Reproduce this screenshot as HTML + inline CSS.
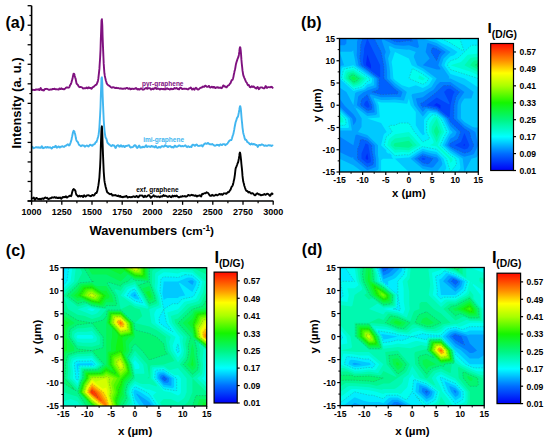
<!DOCTYPE html>
<html><head><meta charset="utf-8"><style>
html,body{margin:0;padding:0;background:#fff;width:550px;height:443px;overflow:hidden}
svg{display:block}
</style></head><body>
<svg width="550" height="443" viewBox="0 0 550 443">
<rect width="550" height="443" fill="#fff"/>
<polyline points="31.6,199.0 32.0,198.4 32.3,198.3 32.7,198.2 33.0,198.2 33.4,197.9 33.8,197.6 34.1,198.3 34.5,199.0 34.9,199.9 35.2,199.5 35.6,198.9 35.9,198.2 36.3,197.9 36.7,198.0 37.0,198.2 37.4,198.7 37.8,198.9 38.1,199.0 38.5,199.0 38.8,199.2 39.2,199.3 39.6,199.1 39.9,198.7 40.3,198.8 40.7,199.1 41.0,199.4 41.4,199.1 41.7,198.8 42.1,198.5 42.5,198.4 42.8,198.6 43.2,198.8 43.6,199.0 43.9,198.5 44.3,198.2 44.6,197.6 45.0,197.6 45.4,197.4 45.7,197.7 46.1,198.0 46.5,198.2 46.8,198.1 47.2,197.8 47.5,198.1 47.9,198.6 48.3,199.1 48.6,199.2 49.0,199.0 49.4,198.7 49.7,198.3 50.1,198.2 50.4,198.3 50.8,198.3 51.2,198.1 51.5,197.6 51.9,197.4 52.3,197.3 52.6,197.6 53.0,197.7 53.3,197.5 53.7,197.5 54.1,197.4 54.4,197.4 54.8,197.1 55.2,197.5 55.5,197.8 55.9,197.9 56.2,197.4 56.6,197.3 57.0,197.7 57.3,197.9 57.7,198.1 58.1,197.7 58.4,197.8 58.8,197.7 59.1,198.1 59.5,197.7 59.9,197.6 60.2,197.5 60.6,198.2 61.0,198.6 61.3,198.8 61.7,198.4 62.0,197.9 62.4,197.2 62.8,197.1 63.1,197.0 63.5,197.2 63.9,196.9 64.2,196.9 64.6,197.0 64.9,197.2 65.3,196.9 65.7,196.4 66.0,196.3 66.4,196.8 66.8,197.5 67.1,197.6 67.5,197.2 67.8,196.8 68.2,196.7 68.6,196.5 68.9,196.4 69.3,195.9 69.7,195.8 70.0,195.6 70.4,195.9 70.7,196.0 71.1,196.2 71.5,195.3 71.8,193.9 72.2,192.0 72.6,190.9 72.9,189.9 73.3,189.4 73.6,189.0 74.0,189.3 74.4,189.6 74.7,189.8 75.1,190.3 75.5,191.2 75.8,192.8 76.2,194.1 76.5,195.0 76.9,195.2 77.3,195.6 77.6,195.9 78.0,196.6 78.3,196.5 78.7,196.3 79.1,195.6 79.4,195.7 79.8,195.9 80.2,196.5 80.5,196.5 80.9,196.3 81.2,196.0 81.6,195.9 82.0,195.8 82.3,196.2 82.7,196.7 83.1,197.1 83.4,196.6 83.8,195.7 84.1,195.2 84.5,195.5 84.9,196.1 85.2,196.5 85.6,196.5 86.0,196.4 86.3,196.1 86.7,195.7 87.0,195.3 87.4,195.3 87.8,195.4 88.1,195.3 88.5,195.2 88.9,195.3 89.2,195.6 89.6,195.8 89.9,195.8 90.3,195.9 90.7,196.2 91.0,196.1 91.4,195.9 91.8,195.1 92.1,195.1 92.5,194.9 92.8,195.3 93.2,195.5 93.6,195.6 93.9,195.4 94.3,195.0 94.7,194.6 95.0,193.9 95.4,193.4 95.7,193.1 96.1,192.9 96.5,193.0 96.8,192.4 97.2,191.4 97.6,189.6 97.9,187.8 98.3,185.9 98.6,183.9 99.0,180.9 99.4,177.5 99.7,172.6 100.1,166.5 100.5,157.7 100.8,147.3 101.2,136.0 101.5,127.8 101.9,126.3 102.3,132.7 102.6,143.5 103.0,154.6 103.4,164.0 103.7,171.2 104.1,176.6 104.4,180.4 104.8,182.9 105.2,184.8 105.5,186.3 105.9,187.9 106.3,189.1 106.6,190.6 107.0,191.6 107.3,192.4 107.7,192.6 108.1,192.8 108.4,193.1 108.8,193.4 109.2,193.8 109.5,194.0 109.9,194.2 110.2,194.2 110.6,194.0 111.0,194.0 111.3,193.8 111.7,194.3 112.1,194.9 112.4,195.6 112.8,195.6 113.1,195.2 113.5,195.1 113.9,195.2 114.2,195.4 114.6,195.3 115.0,195.1 115.3,195.0 115.7,195.2 116.0,195.4 116.4,195.7 116.8,195.8 117.1,196.0 117.5,196.0 117.9,195.7 118.2,195.5 118.6,195.9 118.9,196.3 119.3,196.7 119.7,196.3 120.0,195.9 120.4,196.0 120.8,196.5 121.1,197.1 121.5,196.9 121.8,196.7 122.2,196.8 122.6,197.0 122.9,197.3 123.3,197.0 123.6,196.9 124.0,196.6 124.4,196.7 124.7,196.5 125.1,196.8 125.5,196.5 125.8,196.2 126.2,195.9 126.5,196.1 126.9,196.7 127.3,197.2 127.6,197.5 128.0,197.5 128.4,197.3 128.7,197.1 129.1,197.0 129.4,197.0 129.8,197.0 130.2,197.2 130.5,197.2 130.9,197.0 131.3,197.0 131.6,197.2 132.0,197.3 132.3,196.9 132.7,196.7 133.1,196.4 133.4,196.4 133.8,196.3 134.2,196.5 134.5,196.8 134.9,197.0 135.2,197.1 135.6,196.8 136.0,196.4 136.3,195.9 136.7,195.9 137.1,196.2 137.4,196.8 137.8,197.0 138.1,197.3 138.5,197.1 138.9,196.8 139.2,196.0 139.6,195.5 140.0,195.5 140.3,195.5 140.7,195.6 141.0,195.6 141.4,195.6 141.8,195.5 142.1,195.5 142.5,195.8 142.9,196.4 143.2,196.8 143.6,197.2 143.9,197.1 144.3,196.5 144.7,195.8 145.0,195.7 145.4,196.2 145.8,196.7 146.1,196.9 146.5,196.8 146.8,196.4 147.2,196.3 147.6,196.0 147.9,195.6 148.3,195.2 148.7,195.1 149.0,195.1 149.4,195.4 149.7,195.8 150.1,196.6 150.5,197.3 150.8,197.8 151.2,197.5 151.6,197.0 151.9,196.7 152.3,196.6 152.6,196.5 153.0,196.0 153.4,195.5 153.7,195.2 154.1,195.8 154.5,196.2 154.8,196.6 155.2,196.3 155.5,196.2 155.9,196.3 156.3,196.4 156.6,196.7 157.0,196.9 157.4,196.8 157.7,196.7 158.1,196.5 158.4,196.5 158.8,196.5 159.2,196.9 159.5,197.2 159.9,197.3 160.3,196.7 160.6,196.3 161.0,196.2 161.3,196.3 161.7,196.6 162.1,196.6 162.4,196.6 162.8,195.9 163.2,195.4 163.5,195.0 163.9,195.5 164.2,196.0 164.6,195.9 165.0,195.7 165.3,195.6 165.7,195.9 166.1,196.0 166.4,196.1 166.8,196.3 167.1,196.4 167.5,196.7 167.9,196.7 168.2,196.9 168.6,196.6 168.9,196.3 169.3,196.0 169.7,196.1 170.0,196.4 170.4,196.6 170.8,197.0 171.1,197.1 171.5,197.2 171.8,196.6 172.2,196.0 172.6,195.6 172.9,195.9 173.3,196.4 173.7,196.5 174.0,196.3 174.4,195.8 174.7,195.8 175.1,195.9 175.5,196.3 175.8,196.1 176.2,195.7 176.6,195.5 176.9,196.0 177.3,196.4 177.6,196.6 178.0,196.6 178.4,197.0 178.7,197.3 179.1,197.4 179.5,197.2 179.8,197.1 180.2,196.8 180.5,196.6 180.9,196.4 181.3,196.8 181.6,196.6 182.0,196.6 182.4,196.0 182.7,196.2 183.1,196.2 183.4,196.4 183.8,196.4 184.2,196.4 184.5,196.2 184.9,196.0 185.3,196.2 185.6,196.6 186.0,196.7 186.3,196.5 186.7,196.3 187.1,196.1 187.4,195.9 187.8,195.4 188.2,195.0 188.5,195.0 188.9,195.0 189.2,195.4 189.6,195.5 190.0,195.7 190.3,195.4 190.7,195.4 191.1,195.0 191.4,195.0 191.8,194.7 192.1,194.9 192.5,195.2 192.9,195.2 193.2,195.3 193.6,195.3 194.0,195.6 194.3,195.8 194.7,195.8 195.0,195.8 195.4,195.4 195.8,195.3 196.1,195.6 196.5,196.2 196.9,196.5 197.2,196.4 197.6,196.0 197.9,195.7 198.3,195.7 198.7,195.7 199.0,195.8 199.4,195.5 199.8,195.2 200.1,195.3 200.5,195.8 200.8,196.4 201.2,196.5 201.6,195.5 201.9,194.5 202.3,193.8 202.7,193.9 203.0,194.0 203.4,193.9 203.7,193.7 204.1,193.3 204.5,193.2 204.8,193.1 205.2,193.2 205.6,193.3 205.9,193.0 206.3,192.5 206.6,192.3 207.0,192.5 207.4,192.7 207.7,192.8 208.1,193.0 208.5,193.5 208.8,194.0 209.2,194.6 209.5,195.2 209.9,195.7 210.3,195.8 210.6,195.8 211.0,195.8 211.4,195.6 211.7,195.2 212.1,194.8 212.4,195.1 212.8,195.3 213.2,195.7 213.5,195.5 213.9,195.6 214.2,195.6 214.6,195.7 215.0,195.3 215.3,195.0 215.7,194.7 216.1,194.7 216.4,194.8 216.8,195.0 217.1,195.3 217.5,195.4 217.9,195.0 218.2,194.8 218.6,194.5 219.0,194.4 219.3,194.0 219.7,194.0 220.0,194.2 220.4,194.5 220.8,194.2 221.1,194.0 221.5,194.1 221.9,194.6 222.2,194.9 222.6,194.8 222.9,194.4 223.3,193.9 223.7,193.5 224.0,193.4 224.4,193.4 224.8,193.4 225.1,193.3 225.5,193.4 225.8,193.8 226.2,193.9 226.6,193.6 226.9,193.2 227.3,192.7 227.7,192.6 228.0,192.1 228.4,192.3 228.7,192.0 229.1,191.8 229.5,191.1 229.8,190.6 230.2,190.0 230.6,189.6 230.9,188.7 231.3,187.7 231.6,186.9 232.0,186.3 232.4,186.0 232.7,185.3 233.1,184.1 233.5,182.4 233.8,180.7 234.2,179.3 234.5,177.4 234.9,174.6 235.3,171.2 235.6,168.7 236.0,167.4 236.4,166.7 236.7,165.9 237.1,164.8 237.4,163.9 237.8,162.9 238.2,162.0 238.5,160.5 238.9,158.4 239.3,155.9 239.6,153.4 240.0,152.5 240.3,153.7 240.7,156.8 241.1,160.4 241.4,164.0 241.8,167.6 242.2,171.7 242.5,175.9 242.9,179.2 243.2,181.3 243.6,182.8 244.0,184.1 244.3,185.7 244.7,186.8 245.1,188.0 245.4,188.8 245.8,189.8 246.1,190.4 246.5,190.9 246.9,191.0 247.2,191.0 247.6,191.3 248.0,191.8 248.3,192.3 248.7,192.5 249.0,192.3 249.4,192.0 249.8,192.1 250.1,192.5 250.5,193.0 250.9,193.3 251.2,193.6 251.6,193.4 251.9,193.2 252.3,193.1 252.7,193.2 253.0,193.5 253.4,193.8 253.8,194.4 254.1,194.8 254.5,195.1 254.8,195.3 255.2,195.4 255.6,195.0 255.9,194.4 256.3,194.0 256.7,193.6 257.0,193.5 257.4,193.3 257.7,193.7 258.1,193.9 258.5,194.4 258.8,194.4 259.2,194.5 259.5,194.3 259.9,194.5 260.3,194.7 260.6,195.2 261.0,195.2 261.4,195.2 261.7,195.0 262.1,194.9 262.4,195.0 262.8,194.8 263.2,194.9 263.5,194.5 263.9,194.3 264.3,194.0 264.6,194.3 265.0,194.7 265.3,194.8 265.7,194.8 266.1,194.4 266.4,194.2 266.8,193.8 267.2,193.7 267.5,193.8 267.9,193.9 268.2,194.1 268.6,194.3 269.0,194.7 269.3,195.1 269.7,195.7 270.1,195.9 270.4,195.6 270.8,194.8 271.1,194.2 271.5,193.6 271.9,193.4 272.2,193.5 272.6,194.0 273.0,194.6" fill="none" stroke="#000000" stroke-width="1.9" stroke-linejoin="round"/>
<polyline points="31.6,147.4 32.0,146.9 32.3,146.8 32.7,147.0 33.0,147.8 33.4,148.2 33.8,148.2 34.1,147.9 34.5,147.8 34.9,147.7 35.2,147.6 35.6,147.3 35.9,147.2 36.3,147.1 36.7,147.4 37.0,147.5 37.4,147.6 37.8,147.2 38.1,147.3 38.5,147.3 38.8,147.7 39.2,147.8 39.6,147.7 39.9,147.5 40.3,147.7 40.7,147.9 41.0,147.7 41.4,146.7 41.7,146.2 42.1,146.3 42.5,147.3 42.8,147.9 43.2,148.2 43.6,148.1 43.9,147.9 44.3,147.7 44.6,147.5 45.0,147.3 45.4,147.0 45.7,147.3 46.1,147.6 46.5,147.7 46.8,147.2 47.2,146.9 47.5,146.9 47.9,147.5 48.3,147.5 48.6,147.6 49.0,147.3 49.4,147.5 49.7,147.4 50.1,147.3 50.4,147.4 50.8,147.8 51.2,148.2 51.5,148.5 51.9,148.5 52.3,147.9 52.6,147.4 53.0,147.0 53.3,147.1 53.7,147.1 54.1,147.2 54.4,147.1 54.8,146.9 55.2,146.1 55.5,145.8 55.9,145.9 56.2,146.9 56.6,147.5 57.0,147.8 57.3,147.3 57.7,147.1 58.1,146.8 58.4,146.5 58.8,146.5 59.1,146.8 59.5,147.4 59.9,147.5 60.2,147.2 60.6,146.8 61.0,146.8 61.3,146.8 61.7,146.7 62.0,146.4 62.4,146.2 62.8,146.3 63.1,146.6 63.5,146.9 63.9,146.8 64.2,146.8 64.6,146.3 64.9,146.1 65.3,145.8 65.7,145.8 66.0,145.7 66.4,145.4 66.8,145.1 67.1,144.7 67.5,144.4 67.8,144.3 68.2,144.6 68.6,145.0 68.9,145.5 69.3,145.4 69.7,145.0 70.0,144.2 70.4,143.1 70.7,142.3 71.1,140.9 71.5,139.8 71.8,137.8 72.2,136.3 72.6,134.3 72.9,132.8 73.3,131.4 73.6,130.8 74.0,131.0 74.4,131.6 74.7,132.7 75.1,134.0 75.5,135.9 75.8,137.8 76.2,139.5 76.5,140.5 76.9,141.1 77.3,141.5 77.6,141.8 78.0,142.4 78.3,143.1 78.7,144.1 79.1,144.9 79.4,145.3 79.8,145.2 80.2,145.5 80.5,145.7 80.9,146.3 81.2,146.0 81.6,145.7 82.0,145.3 82.3,145.3 82.7,145.5 83.1,145.6 83.4,145.7 83.8,145.4 84.1,145.9 84.5,146.1 84.9,146.7 85.2,146.4 85.6,146.3 86.0,145.7 86.3,145.7 86.7,145.5 87.0,145.6 87.4,145.7 87.8,146.0 88.1,146.3 88.5,146.5 88.9,146.2 89.2,145.6 89.6,145.1 89.9,144.7 90.3,144.7 90.7,144.8 91.0,145.1 91.4,145.3 91.8,145.7 92.1,145.8 92.5,145.6 92.8,145.2 93.2,144.7 93.6,144.5 93.9,144.4 94.3,144.3 94.7,144.0 95.0,143.5 95.4,142.6 95.7,142.2 96.1,142.0 96.5,141.9 96.8,141.0 97.2,139.8 97.6,138.4 97.9,137.4 98.3,136.2 98.6,134.5 99.0,131.6 99.4,127.3 99.7,121.9 100.1,115.1 100.5,107.0 100.8,96.8 101.2,86.1 101.5,78.2 101.9,77.3 102.3,83.6 102.6,93.7 103.0,103.8 103.4,112.9 103.7,119.7 104.1,125.5 104.4,129.5 104.8,133.1 105.2,135.5 105.5,137.4 105.9,138.2 106.3,138.7 106.6,139.5 107.0,140.9 107.3,142.4 107.7,143.0 108.1,143.4 108.4,143.7 108.8,144.3 109.2,144.4 109.5,144.6 109.9,144.9 110.2,145.3 110.6,145.7 111.0,145.9 111.3,146.2 111.7,145.7 112.1,145.4 112.4,145.0 112.8,145.4 113.1,145.5 113.5,145.5 113.9,145.3 114.2,145.6 114.6,146.1 115.0,146.9 115.3,147.8 115.7,148.0 116.0,147.5 116.4,146.5 116.8,145.9 117.1,145.4 117.5,145.4 117.9,145.2 118.2,145.3 118.6,145.4 118.9,146.1 119.3,146.6 119.7,146.7 120.0,146.5 120.4,145.8 120.8,145.3 121.1,145.3 121.5,145.9 121.8,146.6 122.2,146.7 122.6,146.5 122.9,146.0 123.3,145.8 123.6,145.9 124.0,146.4 124.4,147.1 124.7,147.0 125.1,146.6 125.5,146.0 125.8,146.0 126.2,145.9 126.5,146.0 126.9,145.8 127.3,145.9 127.6,145.6 128.0,145.5 128.4,145.3 128.7,145.2 129.1,145.4 129.4,145.8 129.8,146.5 130.2,147.1 130.5,147.5 130.9,147.5 131.3,147.1 131.6,147.1 132.0,147.1 132.3,147.2 132.7,147.0 133.1,146.8 133.4,146.6 133.8,146.2 134.2,145.6 134.5,145.4 134.9,145.2 135.2,145.2 135.6,145.5 136.0,145.9 136.3,147.0 136.7,147.5 137.1,148.0 137.4,147.7 137.8,147.5 138.1,146.9 138.5,146.4 138.9,145.7 139.2,145.5 139.6,146.1 140.0,147.1 140.3,147.7 140.7,147.5 141.0,147.3 141.4,147.2 141.8,147.5 142.1,147.4 142.5,146.9 142.9,146.7 143.2,146.7 143.6,147.1 143.9,147.2 144.3,147.2 144.7,147.0 145.0,146.7 145.4,146.2 145.8,145.5 146.1,145.3 146.5,145.9 146.8,146.6 147.2,147.1 147.6,146.8 147.9,146.6 148.3,146.4 148.7,146.3 149.0,146.4 149.4,146.4 149.7,146.8 150.1,146.7 150.5,146.9 150.8,146.5 151.2,146.1 151.6,145.9 151.9,146.1 152.3,146.6 152.6,146.7 153.0,146.6 153.4,146.4 153.7,146.7 154.1,147.1 154.5,147.4 154.8,147.4 155.2,146.6 155.5,146.1 155.9,146.0 156.3,146.7 156.6,147.1 157.0,147.6 157.4,147.7 157.7,147.9 158.1,147.6 158.4,147.3 158.8,146.9 159.2,147.0 159.5,147.0 159.9,147.5 160.3,147.6 160.6,147.5 161.0,146.9 161.3,146.5 161.7,146.1 162.1,146.2 162.4,146.2 162.8,146.4 163.2,146.6 163.5,146.7 163.9,146.8 164.2,146.4 164.6,145.9 165.0,145.2 165.3,145.2 165.7,145.7 166.1,146.1 166.4,146.3 166.8,146.0 167.1,146.3 167.5,146.7 167.9,147.1 168.2,146.9 168.6,146.6 168.9,146.1 169.3,146.2 169.7,146.2 170.0,146.3 170.4,146.1 170.8,146.4 171.1,146.9 171.5,147.4 171.8,147.3 172.2,147.0 172.6,146.9 172.9,147.3 173.3,147.5 173.7,147.5 174.0,146.8 174.4,146.1 174.7,145.6 175.1,145.6 175.5,146.0 175.8,146.6 176.2,146.9 176.6,146.9 176.9,146.9 177.3,146.7 177.6,146.4 178.0,146.2 178.4,145.9 178.7,145.6 179.1,145.4 179.5,145.5 179.8,145.6 180.2,145.7 180.5,146.1 180.9,146.3 181.3,146.4 181.6,146.2 182.0,145.9 182.4,146.0 182.7,146.1 183.1,146.3 183.4,146.2 183.8,146.2 184.2,146.0 184.5,145.8 184.9,145.5 185.3,145.3 185.6,145.6 186.0,145.9 186.3,146.5 186.7,146.8 187.1,147.2 187.4,146.8 187.8,146.5 188.2,146.2 188.5,146.3 188.9,146.7 189.2,146.9 189.6,147.0 190.0,146.9 190.3,146.5 190.7,146.7 191.1,146.8 191.4,147.1 191.8,146.2 192.1,145.3 192.5,144.6 192.9,144.6 193.2,144.8 193.6,144.9 194.0,145.0 194.3,145.5 194.7,145.8 195.0,145.9 195.4,145.4 195.8,145.0 196.1,144.6 196.5,144.5 196.9,144.7 197.2,145.2 197.6,145.6 197.9,145.8 198.3,145.9 198.7,145.9 199.0,146.0 199.4,145.8 199.8,145.6 200.1,145.6 200.5,145.7 200.8,145.4 201.2,145.3 201.6,145.2 201.9,145.9 202.3,146.1 202.7,146.4 203.0,145.5 203.4,145.1 203.7,144.5 204.1,144.4 204.5,144.1 204.8,143.6 205.2,143.4 205.6,143.3 205.9,143.5 206.3,143.7 206.6,143.9 207.0,143.8 207.4,143.5 207.7,143.1 208.1,142.9 208.5,143.2 208.8,143.7 209.2,144.1 209.5,144.2 209.9,144.2 210.3,144.3 210.6,144.3 211.0,144.5 211.4,144.4 211.7,144.3 212.1,144.0 212.4,144.1 212.8,144.4 213.2,144.7 213.5,144.9 213.9,145.1 214.2,145.6 214.6,145.7 215.0,145.8 215.3,145.7 215.7,145.5 216.1,145.3 216.4,144.9 216.8,144.8 217.1,144.8 217.5,145.1 217.9,144.9 218.2,144.9 218.6,145.1 219.0,145.7 219.3,145.7 219.7,145.1 220.0,144.5 220.4,144.3 220.8,144.5 221.1,144.7 221.5,144.9 221.9,145.1 222.2,144.9 222.6,144.5 222.9,144.2 223.3,144.2 223.7,144.1 224.0,144.1 224.4,144.1 224.8,144.7 225.1,145.0 225.5,145.2 225.8,144.9 226.2,144.4 226.6,144.2 226.9,144.1 227.3,143.8 227.7,143.2 228.0,142.6 228.4,142.2 228.7,141.6 229.1,141.1 229.5,140.6 229.8,140.5 230.2,140.2 230.6,140.1 230.9,140.1 231.3,140.1 231.6,139.5 232.0,138.3 232.4,136.8 232.7,135.7 233.1,134.6 233.5,133.4 233.8,131.7 234.2,129.9 234.5,127.9 234.9,125.8 235.3,123.7 235.6,122.3 236.0,121.1 236.4,120.1 236.7,118.8 237.1,117.8 237.4,117.3 237.8,116.8 238.2,115.8 238.5,114.1 238.9,112.2 239.3,110.0 239.6,107.9 240.0,106.3 240.3,106.3 240.7,108.1 241.1,111.9 241.4,116.1 241.8,120.5 242.2,124.2 242.5,127.6 242.9,130.4 243.2,132.7 243.6,134.2 244.0,135.5 244.3,136.8 244.7,138.4 245.1,139.5 245.4,139.9 245.8,139.8 246.1,139.7 246.5,140.3 246.9,141.1 247.2,141.9 247.6,142.2 248.0,142.3 248.3,142.6 248.7,142.8 249.0,143.3 249.4,143.5 249.8,144.1 250.1,144.3 250.5,144.6 250.9,144.1 251.2,143.8 251.6,143.4 251.9,143.7 252.3,144.0 252.7,144.4 253.0,144.2 253.4,143.9 253.8,144.0 254.1,144.3 254.5,144.5 254.8,144.3 255.2,144.6 255.6,144.9 255.9,145.0 256.3,145.0 256.7,144.9 257.0,145.6 257.4,146.3 257.7,146.9 258.1,146.6 258.5,145.9 258.8,145.2 259.2,145.0 259.5,144.9 259.9,145.0 260.3,145.1 260.6,145.3 261.0,145.0 261.4,144.5 261.7,144.4 262.1,144.5 262.4,144.7 262.8,144.8 263.2,144.9 263.5,145.2 263.9,145.5 264.3,145.9 264.6,145.8 265.0,145.5 265.3,145.4 265.7,145.5 266.1,145.8 266.4,145.7 266.8,145.7 267.2,145.7 267.5,145.7 267.9,145.5 268.2,145.3 268.6,145.1 269.0,145.1 269.3,145.3 269.7,145.5 270.1,145.6 270.4,145.4 270.8,145.3 271.1,145.6 271.5,146.0 271.9,145.8 272.2,145.6 272.6,145.5 273.0,145.9" fill="none" stroke="#41b6f0" stroke-width="1.9" stroke-linejoin="round"/>
<polyline points="31.6,90.1 32.0,90.1 32.3,89.9 32.7,89.7 33.0,89.8 33.4,89.9 33.8,89.9 34.1,90.0 34.5,90.0 34.9,90.1 35.2,89.9 35.6,89.7 35.9,89.4 36.3,89.4 36.7,89.5 37.0,89.7 37.4,89.6 37.8,89.4 38.1,89.2 38.5,89.2 38.8,89.6 39.2,90.0 39.6,90.0 39.9,89.4 40.3,88.4 40.7,88.1 41.0,88.6 41.4,89.2 41.7,89.9 42.1,90.1 42.5,90.2 42.8,89.9 43.2,90.1 43.6,90.4 43.9,90.5 44.3,89.9 44.6,89.2 45.0,88.9 45.4,89.0 45.7,89.0 46.1,88.9 46.5,88.8 46.8,88.9 47.2,89.0 47.5,89.2 47.9,89.3 48.3,89.5 48.6,89.6 49.0,89.9 49.4,89.9 49.7,89.8 50.1,89.5 50.4,89.6 50.8,89.4 51.2,89.6 51.5,89.4 51.9,89.5 52.3,89.1 52.6,88.9 53.0,89.0 53.3,89.1 53.7,89.1 54.1,88.8 54.4,88.7 54.8,88.9 55.2,89.2 55.5,89.3 55.9,89.2 56.2,89.1 56.6,89.4 57.0,89.4 57.3,89.4 57.7,89.3 58.1,89.5 58.4,89.6 58.8,89.5 59.1,88.9 59.5,88.5 59.9,88.6 60.2,88.9 60.6,89.1 61.0,88.7 61.3,88.3 61.7,88.4 62.0,88.9 62.4,89.1 62.8,89.0 63.1,89.0 63.5,89.2 63.9,89.4 64.2,89.3 64.6,89.0 64.9,88.8 65.3,88.4 65.7,88.1 66.0,87.6 66.4,87.5 66.8,87.4 67.1,87.4 67.5,87.5 67.8,87.5 68.2,87.7 68.6,87.6 68.9,87.6 69.3,87.2 69.7,86.3 70.0,85.4 70.4,84.7 70.7,84.4 71.1,83.5 71.5,82.3 71.8,81.0 72.2,79.7 72.6,78.3 72.9,76.4 73.3,74.8 73.6,73.6 74.0,73.6 74.4,74.4 74.7,76.0 75.1,77.3 75.5,78.3 75.8,79.8 76.2,81.8 76.5,83.4 76.9,84.0 77.3,84.3 77.6,84.7 78.0,85.2 78.3,85.8 78.7,86.2 79.1,86.8 79.4,87.1 79.8,87.2 80.2,87.1 80.5,87.0 80.9,87.1 81.2,87.1 81.6,87.2 82.0,87.3 82.3,87.7 82.7,88.2 83.1,88.5 83.4,88.5 83.8,88.3 84.1,88.2 84.5,88.3 84.9,88.3 85.2,88.3 85.6,88.1 86.0,88.1 86.3,87.7 86.7,87.5 87.0,87.6 87.4,88.0 87.8,88.4 88.1,87.9 88.5,87.6 88.9,87.3 89.2,87.7 89.6,88.0 89.9,88.0 90.3,87.9 90.7,88.0 91.0,88.5 91.4,88.8 91.8,88.7 92.1,88.0 92.5,87.4 92.8,87.1 93.2,87.0 93.6,86.9 93.9,86.5 94.3,86.2 94.7,85.7 95.0,85.5 95.4,85.1 95.7,84.9 96.1,84.9 96.5,84.7 96.8,83.9 97.2,82.9 97.6,82.0 97.9,81.0 98.3,78.9 98.6,76.1 99.0,72.6 99.4,68.9 99.7,64.0 100.1,58.0 100.5,50.1 100.8,40.1 101.2,29.2 101.5,20.5 101.9,19.2 102.3,25.4 102.6,36.4 103.0,46.9 103.4,56.2 103.7,63.4 104.1,69.1 104.4,73.2 104.8,75.7 105.2,77.6 105.5,79.0 105.9,80.7 106.3,81.8 106.6,83.1 107.0,83.7 107.3,84.3 107.7,84.7 108.1,85.1 108.4,85.4 108.8,85.5 109.2,85.8 109.5,85.9 109.9,86.2 110.2,86.6 110.6,86.9 111.0,87.3 111.3,87.5 111.7,87.7 112.1,87.6 112.4,87.5 112.8,87.2 113.1,87.3 113.5,87.3 113.9,87.5 114.2,87.5 114.6,87.8 115.0,88.1 115.3,88.1 115.7,87.9 116.0,87.7 116.4,87.9 116.8,88.1 117.1,88.2 117.5,88.1 117.9,88.0 118.2,88.0 118.6,88.2 118.9,88.3 119.3,88.5 119.7,88.4 120.0,88.6 120.4,88.4 120.8,88.3 121.1,88.4 121.5,88.6 121.8,88.8 122.2,88.7 122.6,88.7 122.9,88.7 123.3,88.7 123.6,88.7 124.0,88.5 124.4,88.5 124.7,88.6 125.1,88.7 125.5,88.7 125.8,88.4 126.2,88.2 126.5,87.9 126.9,87.9 127.3,88.0 127.6,88.2 128.0,88.6 128.4,88.8 128.7,88.9 129.1,88.6 129.4,88.3 129.8,88.5 130.2,88.6 130.5,89.3 130.9,89.0 131.3,89.1 131.6,88.7 132.0,88.6 132.3,88.6 132.7,88.8 133.1,89.0 133.4,89.0 133.8,88.8 134.2,88.8 134.5,88.8 134.9,88.9 135.2,88.6 135.6,88.3 136.0,88.0 136.3,88.2 136.7,88.6 137.1,89.2 137.4,89.4 137.8,89.5 138.1,89.2 138.5,89.0 138.9,89.1 139.2,89.5 139.6,89.6 140.0,89.2 140.3,88.7 140.7,88.4 141.0,88.4 141.4,88.5 141.8,88.8 142.1,89.1 142.5,89.5 142.9,89.5 143.2,89.5 143.6,89.5 143.9,89.4 144.3,89.3 144.7,88.7 145.0,88.5 145.4,88.2 145.8,88.2 146.1,88.0 146.5,88.2 146.8,88.4 147.2,88.9 147.6,88.7 147.9,88.5 148.3,88.2 148.7,88.2 149.0,88.1 149.4,88.1 149.7,88.1 150.1,88.4 150.5,88.9 150.8,89.4 151.2,89.6 151.6,89.3 151.9,89.0 152.3,88.6 152.6,88.9 153.0,89.2 153.4,89.3 153.7,89.1 154.1,88.3 154.5,88.3 154.8,88.1 155.2,88.4 155.5,88.2 155.9,88.5 156.3,88.8 156.6,89.0 157.0,88.8 157.4,88.6 157.7,88.7 158.1,88.7 158.4,88.7 158.8,88.6 159.2,89.0 159.5,89.2 159.9,89.5 160.3,89.1 160.6,89.0 161.0,88.7 161.3,88.8 161.7,89.0 162.1,89.2 162.4,89.1 162.8,88.9 163.2,88.9 163.5,89.1 163.9,89.3 164.2,89.2 164.6,88.9 165.0,89.3 165.3,89.4 165.7,89.4 166.1,88.8 166.4,88.6 166.8,88.4 167.1,88.3 167.5,88.4 167.9,88.7 168.2,89.1 168.6,89.0 168.9,89.2 169.3,89.3 169.7,89.6 170.0,89.4 170.4,89.1 170.8,88.6 171.1,88.7 171.5,88.9 171.8,89.2 172.2,89.2 172.6,89.0 172.9,89.1 173.3,89.1 173.7,88.9 174.0,88.4 174.4,88.1 174.7,88.0 175.1,88.2 175.5,88.5 175.8,88.5 176.2,88.4 176.6,88.0 176.9,88.3 177.3,88.5 177.6,89.0 178.0,88.8 178.4,89.1 178.7,89.3 179.1,89.4 179.5,88.8 179.8,88.1 180.2,87.7 180.5,87.8 180.9,87.8 181.3,88.1 181.6,88.3 182.0,88.9 182.4,89.1 182.7,89.0 183.1,88.9 183.4,88.8 183.8,88.7 184.2,88.7 184.5,88.7 184.9,88.9 185.3,88.9 185.6,88.8 186.0,88.8 186.3,88.7 186.7,89.0 187.1,89.1 187.4,89.4 187.8,89.3 188.2,89.4 188.5,88.9 188.9,88.6 189.2,88.4 189.6,88.4 190.0,88.1 190.3,87.8 190.7,87.5 191.1,87.8 191.4,88.4 191.8,89.2 192.1,89.5 192.5,89.4 192.9,88.9 193.2,88.6 193.6,88.9 194.0,89.4 194.3,89.7 194.7,89.4 195.0,88.7 195.4,88.2 195.8,87.8 196.1,87.8 196.5,88.2 196.9,88.7 197.2,89.2 197.6,89.4 197.9,89.5 198.3,89.5 198.7,89.4 199.0,89.1 199.4,88.7 199.8,88.3 200.1,88.0 200.5,87.8 200.8,87.7 201.2,87.7 201.6,87.6 201.9,87.5 202.3,86.9 202.7,86.7 203.0,86.5 203.4,86.8 203.7,86.9 204.1,86.9 204.5,86.6 204.8,86.2 205.2,85.7 205.6,85.7 205.9,85.8 206.3,86.3 206.6,86.6 207.0,86.9 207.4,86.8 207.7,86.9 208.1,86.7 208.5,86.3 208.8,85.9 209.2,86.1 209.5,86.8 209.9,87.4 210.3,87.5 210.6,87.5 211.0,87.1 211.4,87.0 211.7,86.7 212.1,86.9 212.4,87.2 212.8,87.5 213.2,87.6 213.5,87.0 213.9,86.9 214.2,86.9 214.6,87.5 215.0,87.7 215.3,88.1 215.7,87.9 216.1,87.6 216.4,87.3 216.8,87.4 217.1,87.5 217.5,87.2 217.9,87.2 218.2,87.4 218.6,87.9 219.0,87.9 219.3,87.8 219.7,87.6 220.0,87.6 220.4,87.5 220.8,87.7 221.1,88.1 221.5,88.2 221.9,88.0 222.2,87.5 222.6,86.9 222.9,86.1 223.3,85.5 223.7,85.4 224.0,85.9 224.4,86.4 224.8,86.6 225.1,86.5 225.5,86.5 225.8,86.9 226.2,87.4 226.6,87.4 226.9,87.0 227.3,86.3 227.7,85.9 228.0,85.4 228.4,85.4 228.7,85.2 229.1,85.1 229.5,84.4 229.8,83.9 230.2,83.4 230.6,83.0 230.9,82.1 231.3,81.1 231.6,80.3 232.0,80.0 232.4,79.9 232.7,79.4 233.1,78.3 233.5,76.6 233.8,74.7 234.2,73.0 234.5,71.3 234.9,69.9 235.3,68.1 235.6,66.1 236.0,63.9 236.4,62.4 236.7,61.4 237.1,60.5 237.4,59.3 237.8,58.2 238.2,57.5 238.5,56.6 238.9,54.7 239.3,51.9 239.6,49.0 240.0,47.1 240.3,47.4 240.7,50.2 241.1,54.7 241.4,59.4 241.8,63.8 242.2,67.4 242.5,70.4 242.9,72.8 243.2,74.8 243.6,76.2 244.0,77.0 244.3,77.8 244.7,78.7 245.1,79.7 245.4,80.4 245.8,81.3 246.1,81.9 246.5,82.4 246.9,82.8 247.2,83.6 247.6,84.5 248.0,85.2 248.3,85.1 248.7,84.9 249.0,85.3 249.4,86.2 249.8,87.0 250.1,87.2 250.5,87.3 250.9,87.2 251.2,86.8 251.6,86.2 251.9,86.2 252.3,86.5 252.7,87.0 253.0,86.7 253.4,86.5 253.8,86.4 254.1,87.0 254.5,87.4 254.8,87.7 255.2,87.9 255.6,88.1 255.9,88.4 256.3,88.5 256.7,88.1 257.0,87.5 257.4,87.1 257.7,87.0 258.1,87.7 258.5,88.5 258.8,89.2 259.2,89.0 259.5,88.6 259.9,87.9 260.3,87.7 260.6,87.4 261.0,87.4 261.4,87.4 261.7,87.4 262.1,87.5 262.4,87.6 262.8,88.0 263.2,88.2 263.5,88.3 263.9,88.4 264.3,88.3 264.6,88.0 265.0,87.2 265.3,86.5 265.7,86.1 266.1,86.5 266.4,87.3 266.8,87.9 267.2,87.9 267.5,87.5 267.9,87.2 268.2,87.2 268.6,87.1 269.0,87.1 269.3,87.2 269.7,87.3 270.1,87.4 270.4,86.9 270.8,86.9 271.1,86.7 271.5,87.0 271.9,86.9 272.2,87.2 272.6,87.9 273.0,88.5" fill="none" stroke="#7f117f" stroke-width="1.9" stroke-linejoin="round"/>
<text x="31.60" y="214.6" font-size="9" text-anchor="middle" font-family="'Liberation Sans', sans-serif" font-weight="bold">1000</text>
<text x="61.80" y="214.6" font-size="9" text-anchor="middle" font-family="'Liberation Sans', sans-serif" font-weight="bold">1250</text>
<text x="92.00" y="214.6" font-size="9" text-anchor="middle" font-family="'Liberation Sans', sans-serif" font-weight="bold">1500</text>
<text x="122.20" y="214.6" font-size="9" text-anchor="middle" font-family="'Liberation Sans', sans-serif" font-weight="bold">1750</text>
<text x="152.40" y="214.6" font-size="9" text-anchor="middle" font-family="'Liberation Sans', sans-serif" font-weight="bold">2000</text>
<text x="182.60" y="214.6" font-size="9" text-anchor="middle" font-family="'Liberation Sans', sans-serif" font-weight="bold">2250</text>
<text x="212.80" y="214.6" font-size="9" text-anchor="middle" font-family="'Liberation Sans', sans-serif" font-weight="bold">2500</text>
<text x="243.00" y="214.6" font-size="9" text-anchor="middle" font-family="'Liberation Sans', sans-serif" font-weight="bold">2750</text>
<text x="273.20" y="214.6" font-size="9" text-anchor="middle" font-family="'Liberation Sans', sans-serif" font-weight="bold">3000</text>
<line x1="31.6" y1="5.7" x2="31.6" y2="201.8" stroke="#000" stroke-width="1.6"/>
<line x1="27.6" y1="201.0" x2="273.4" y2="201.0" stroke="#000" stroke-width="1.6"/>
<line x1="27.6" y1="5.70" x2="31.6" y2="5.70" stroke="#000" stroke-width="1.3"/>
<line x1="29.4" y1="15.46" x2="31.6" y2="15.46" stroke="#000" stroke-width="1.2"/>
<line x1="27.6" y1="25.23" x2="31.6" y2="25.23" stroke="#000" stroke-width="1.3"/>
<line x1="29.4" y1="35.00" x2="31.6" y2="35.00" stroke="#000" stroke-width="1.2"/>
<line x1="27.6" y1="44.76" x2="31.6" y2="44.76" stroke="#000" stroke-width="1.3"/>
<line x1="29.4" y1="54.53" x2="31.6" y2="54.53" stroke="#000" stroke-width="1.2"/>
<line x1="27.6" y1="64.29" x2="31.6" y2="64.29" stroke="#000" stroke-width="1.3"/>
<line x1="29.4" y1="74.06" x2="31.6" y2="74.06" stroke="#000" stroke-width="1.2"/>
<line x1="27.6" y1="83.82" x2="31.6" y2="83.82" stroke="#000" stroke-width="1.3"/>
<line x1="29.4" y1="93.59" x2="31.6" y2="93.59" stroke="#000" stroke-width="1.2"/>
<line x1="27.6" y1="103.35" x2="31.6" y2="103.35" stroke="#000" stroke-width="1.3"/>
<line x1="29.4" y1="113.12" x2="31.6" y2="113.12" stroke="#000" stroke-width="1.2"/>
<line x1="27.6" y1="122.88" x2="31.6" y2="122.88" stroke="#000" stroke-width="1.3"/>
<line x1="29.4" y1="132.65" x2="31.6" y2="132.65" stroke="#000" stroke-width="1.2"/>
<line x1="27.6" y1="142.41" x2="31.6" y2="142.41" stroke="#000" stroke-width="1.3"/>
<line x1="29.4" y1="152.18" x2="31.6" y2="152.18" stroke="#000" stroke-width="1.2"/>
<line x1="27.6" y1="161.94" x2="31.6" y2="161.94" stroke="#000" stroke-width="1.3"/>
<line x1="29.4" y1="171.70" x2="31.6" y2="171.70" stroke="#000" stroke-width="1.2"/>
<line x1="27.6" y1="181.47" x2="31.6" y2="181.47" stroke="#000" stroke-width="1.3"/>
<line x1="29.4" y1="191.24" x2="31.6" y2="191.24" stroke="#000" stroke-width="1.2"/>
<line x1="27.6" y1="201.00" x2="31.6" y2="201.00" stroke="#000" stroke-width="1.3"/>
<line x1="31.60" y1="201.0" x2="31.60" y2="204.8" stroke="#000" stroke-width="1.3"/>
<line x1="46.70" y1="201.0" x2="46.70" y2="203.2" stroke="#000" stroke-width="1.2"/>
<line x1="61.80" y1="201.0" x2="61.80" y2="204.8" stroke="#000" stroke-width="1.3"/>
<line x1="76.90" y1="201.0" x2="76.90" y2="203.2" stroke="#000" stroke-width="1.2"/>
<line x1="92.00" y1="201.0" x2="92.00" y2="204.8" stroke="#000" stroke-width="1.3"/>
<line x1="107.10" y1="201.0" x2="107.10" y2="203.2" stroke="#000" stroke-width="1.2"/>
<line x1="122.20" y1="201.0" x2="122.20" y2="204.8" stroke="#000" stroke-width="1.3"/>
<line x1="137.30" y1="201.0" x2="137.30" y2="203.2" stroke="#000" stroke-width="1.2"/>
<line x1="152.40" y1="201.0" x2="152.40" y2="204.8" stroke="#000" stroke-width="1.3"/>
<line x1="167.50" y1="201.0" x2="167.50" y2="203.2" stroke="#000" stroke-width="1.2"/>
<line x1="182.60" y1="201.0" x2="182.60" y2="204.8" stroke="#000" stroke-width="1.3"/>
<line x1="197.70" y1="201.0" x2="197.70" y2="203.2" stroke="#000" stroke-width="1.2"/>
<line x1="212.80" y1="201.0" x2="212.80" y2="204.8" stroke="#000" stroke-width="1.3"/>
<line x1="227.90" y1="201.0" x2="227.90" y2="203.2" stroke="#000" stroke-width="1.2"/>
<line x1="243.00" y1="201.0" x2="243.00" y2="204.8" stroke="#000" stroke-width="1.3"/>
<line x1="258.10" y1="201.0" x2="258.10" y2="203.2" stroke="#000" stroke-width="1.2"/>
<line x1="273.20" y1="201.0" x2="273.20" y2="204.8" stroke="#000" stroke-width="1.3"/>
<text x="89.5" y="235.4" font-size="12.9" font-family="'Liberation Sans', sans-serif" font-weight="bold">Wavenumbers <tspan font-size="11.8" dx="1">(cm</tspan><tspan font-size="8.2" dy="-4.8">-1</tspan><tspan font-size="11.8" dy="4.8">)</tspan></text>
<text transform="translate(20.8,103.0) rotate(-90)" x="0" y="0" font-size="12.9" text-anchor="middle" font-family="'Liberation Sans', sans-serif" font-weight="bold">Intensity (a. u.)</text>
<text x="5.5" y="28" font-size="16" font-family="'Liberation Sans', sans-serif" font-weight="bold">(a)</text>
<text x="183.5" y="85.6" font-size="6.5" text-anchor="end" fill="#7f117f" font-family="'Liberation Sans', sans-serif" font-weight="bold">pyr-graphene</text>
<text x="184" y="142.2" font-size="6.5" text-anchor="end" fill="#41b6f0" font-family="'Liberation Sans', sans-serif" font-weight="bold">imi-graphene</text>
<text x="178.5" y="192.3" font-size="6.5" text-anchor="end" fill="#000" font-family="'Liberation Sans', sans-serif" font-weight="bold">exf. graphene</text>
<rect x="339.5" y="38.5" width="138.8" height="133.5" fill="#0000f5"/>
<path d="M339.5,38.5 367.3,38.5 395.0,38.5 422.8,38.5 450.5,38.5 478.3,38.5 478.3,65.2 478.3,91.9 478.3,118.6 478.3,145.3 478.3,172.0 450.5,172.0 422.8,172.0 395.0,172.0 367.3,172.0 339.5,172.0 339.5,145.3 339.5,118.6 339.5,91.9 339.5,65.2Z" fill="#000ef6" fill-rule="evenodd"/>
<path d="M339.5,38.5 367.3,38.5 395.0,38.5 422.8,38.5 450.5,38.5 478.3,38.5 478.3,65.2 478.3,91.9 478.3,118.6 478.3,145.3 478.3,172.0 450.5,172.0 422.8,172.0 395.0,172.0 367.3,172.0 339.5,172.0 339.5,145.3 339.5,118.6 339.5,91.9 339.5,65.2Z" fill="#0029f9" fill-rule="evenodd"/>
<path d="M339.5,38.5 367.3,38.5 395.0,38.5 422.8,38.5 450.5,38.5 478.3,38.5 478.3,65.2 478.3,91.9 478.3,118.6 478.3,145.3 478.3,172.0 450.5,172.0 422.8,172.0 395.0,172.0 367.3,172.0 339.5,172.0 339.5,145.3 339.5,118.6 339.5,91.9 339.5,65.2ZM367.3,54.5 366.1,63.5 366.2,65.2 370.7,68.5 371.0,68.5 371.0,65.2ZM436.7,103.0 433.7,105.2 436.7,105.9 440.1,108.6 440.4,108.6 440.6,105.2ZM464.4,143.7 463.2,145.3 464.4,145.8 465.1,145.3ZM367.3,153.3 365.7,157.0 365.6,158.7 367.3,160.0 368.3,158.7Z" fill="#0045fb" fill-rule="evenodd"/>
<path d="M339.5,38.5 367.3,38.5 395.0,38.5 422.8,38.5 450.5,38.5 478.3,38.5 478.3,65.2 478.3,91.9 478.3,118.6 478.3,145.3 478.3,172.0 450.5,172.0 422.8,172.0 395.0,172.0 367.3,172.0 339.5,172.0 339.5,145.3 339.5,118.6 339.5,91.9 339.5,65.2ZM367.3,38.5 364.1,48.5 364.1,51.9 362.9,60.2 363.0,61.9 363.7,65.2 379.4,77.0 380.2,76.9 380.2,65.2ZM422.8,157.7 421.4,158.7 422.8,159.9 424.5,160.1 425.7,158.7ZM447.1,89.1 444.0,91.9 449.7,103.6 448.8,104.3 436.7,97.5 426.4,105.2 436.7,107.5 448.8,117.1 449.7,116.9 450.5,105.2 452.9,95.2 454.0,93.1 454.8,91.9 450.5,88.8 448.8,88.8ZM464.4,133.0 461.0,142.0 454.7,145.3 464.4,149.5 467.7,148.6 469.5,145.3ZM365.5,101.6 365.2,101.9 364.3,103.6 364.1,105.2 367.3,107.7 369.0,107.5 369.5,106.9 369.4,105.2 367.3,100.2ZM365.5,143.5 365.3,143.6 364.9,145.3 361.5,153.6 361.5,158.7 367.3,163.4 370.7,162.2 370.9,160.3 370.7,158.0 368.6,147.0 368.5,145.3 367.3,144.1Z" fill="#0060fe" fill-rule="evenodd"/>
<path d="M339.5,38.5 362.6,38.5 360.6,45.2 360.5,51.9 359.8,56.9 359.8,58.5 361.1,65.2 369.0,70.9 379.0,78.5 378.8,88.6 377.7,90.0 371.9,91.9 381.1,94.6 395.0,94.0 396.8,94.2 397.7,93.6 398.2,91.9 394.0,88.6 384.0,78.5 384.0,68.5 383.7,65.2 381.1,51.9 374.2,38.5 388.4,38.5 395.0,41.6 398.5,42.0 408.9,40.7 410.6,41.3 412.0,40.2 411.7,38.5 438.4,38.5 478.3,38.5 478.3,65.2 478.3,91.9 478.3,118.6 478.3,145.3 478.3,172.0 450.5,172.0 422.8,172.0 395.0,172.0 367.3,172.0 339.5,172.0 339.5,145.3 339.5,118.6 339.5,91.9 339.5,65.2ZM360.3,140.0 359.2,145.3 357.7,148.6 357.5,150.3 357.5,158.7 367.3,166.9 372.5,164.9 373.4,163.7 373.4,158.7 371.8,150.3 371.7,145.3 367.3,141.1 362.1,139.3ZM367.3,94.7 362.1,98.9 361.2,100.2 360.5,105.2 367.3,110.4 370.7,110.1 372.0,108.6 371.7,105.2ZM433.2,47.8 431.8,48.5 431.1,51.9 436.7,60.7 438.4,55.7 439.6,53.5 441.3,51.9 436.7,48.9ZM443.6,85.6 436.7,91.9 428.3,98.6 422.8,102.6 421.0,102.9 420.6,103.6 421.0,105.2 422.8,107.5 423.3,106.9 424.5,106.4 436.7,109.1 448.7,118.6 450.5,122.1 460.7,131.9 458.2,138.6 457.5,139.4 450.5,143.1 449.4,145.3 450.5,146.4 454.0,148.6 464.4,153.2 469.6,151.8 471.4,150.3 473.9,145.3 471.1,138.6 469.6,131.9 464.2,128.6 453.7,118.6 454.0,105.2 456.0,96.9 459.6,91.9 450.5,85.4ZM421.0,156.5 417.8,158.7 422.8,162.9 428.0,164.0 428.9,163.7 433.0,158.7 422.8,155.5Z" fill="#0080ff" fill-rule="evenodd"/>
<path d="M346.4,38.5 358.0,38.5 357.0,41.8 356.9,51.9 356.6,55.2 358.6,65.2 367.3,71.3 376.7,78.5 376.5,86.9 375.9,87.6 367.8,90.2 365.5,91.5 363.8,91.9 358.6,96.1 358.1,96.9 356.9,105.2 367.3,113.2 374.2,112.5 374.7,111.9 374.1,105.2 369.8,95.2 370.7,94.2 381.1,97.2 395.9,96.9 400.2,97.3 400.9,96.9 402.5,91.9 395.0,86.4 387.1,78.5 387.1,71.9 386.5,65.2 384.6,55.2 385.8,51.9 381.7,40.2 382.9,39.3 395.0,45.0 400.2,45.6 403.7,45.8 408.9,45.2 417.6,48.0 419.0,46.8 417.2,38.5 443.6,38.5 478.3,38.5 478.3,65.2 478.3,91.9 478.3,118.6 478.3,145.3 478.3,172.0 450.5,172.0 422.8,172.0 395.0,172.0 367.3,172.0 339.5,172.0 339.5,152.0 351.6,157.8 353.4,157.0 353.4,145.3 339.5,136.4 339.5,106.4 352.2,118.6 353.4,125.3 355.7,121.9 356.2,120.3 356.2,118.6 353.4,114.2 344.7,105.8 339.5,98.6 339.5,71.9 339.5,45.2 344.7,45.2 346.4,43.5ZM356.9,134.6 355.5,135.3 353.4,145.3 353.4,158.7 367.3,170.3 375.9,167.1 376.0,158.7 375.0,153.6 374.8,145.3 367.3,138.0ZM428.0,43.1 427.3,43.5 425.6,51.9 429.7,58.5 422.8,65.2 436.7,69.6 440.1,69.6 440.5,68.5 438.2,65.2 441.1,56.9 442.4,55.2 445.9,51.9 436.7,45.9ZM440.1,82.1 436.7,85.2 434.9,88.1 433.2,90.0 429.7,91.9 422.8,97.2 415.8,98.6 417.6,105.2 422.8,111.9 425.8,108.6 426.2,108.4 436.7,110.7 446.7,118.6 450.5,126.1 456.7,131.9 455.4,135.3 453.7,137.0 450.5,138.6 448.6,142.0 447.1,145.3 450.5,148.6 461.0,155.3 464.4,156.8 473.1,154.5 474.2,153.6 478.3,145.3 475.4,131.9 464.4,125.4 457.3,118.6 457.5,105.2 458.7,100.2 464.4,91.9 450.5,82.0ZM422.8,153.2 419.1,155.3 414.2,158.7 422.8,165.9 431.5,167.8 433.2,167.3 438.4,160.9 438.6,160.3 438.0,158.7 436.7,157.3 434.9,157.0ZM381.1,38.5 381.1,38.5Z" fill="#00a4ff" fill-rule="evenodd"/>
<path d="M353.4,38.5 353.4,51.9 356.0,65.2 363.8,70.7 374.2,78.5 374.2,85.2 367.3,87.5 365.5,89.3 363.4,90.2 356.9,91.9 355.1,93.3 353.4,105.2 346.4,91.9 339.5,87.5 339.5,69.6 340.1,66.9 341.2,65.8 344.1,65.2 339.5,51.8 351.6,51.8 353.4,50.2ZM422.8,38.5 448.8,38.5 478.3,38.5 478.3,65.2 478.3,91.9 478.3,127.5 474.8,127.5 472.7,126.9 464.3,121.9 460.9,118.6 460.9,105.2 461.3,103.6 462.0,101.9 464.4,98.6 471.4,98.6 473.7,91.9 464.4,85.2 450.5,78.5 436.7,78.5 431.5,87.1 422.8,91.9 412.4,93.9 411.5,95.2 414.1,105.2 422.8,116.4 428.0,110.5 436.7,112.2 444.7,118.6 450.5,130.0 452.6,131.9 452.3,132.8 451.6,133.6 450.5,134.2 448.0,138.6 444.8,145.3 450.0,150.3 462.7,158.6 464.4,172.0 471.4,158.7 476.6,157.3 476.9,157.0 478.3,154.2 478.3,172.0 450.5,172.0 422.8,172.0 395.0,172.0 371.9,172.0 377.7,169.9 378.6,168.7 378.6,158.7 378.0,155.3 378.0,145.3 367.3,135.0 358.0,131.9 361.5,126.9 361.7,118.6 355.5,108.6 356.9,107.9 367.3,115.9 375.9,115.0 377.2,113.6 376.4,105.2 373.6,98.6 374.2,97.9 381.1,99.9 388.1,99.9 395.0,99.6 403.7,100.5 404.1,100.2 406.8,91.9 395.0,83.3 390.3,78.5 390.1,71.9 389.5,66.9 388.1,58.5 390.4,51.8 388.7,46.8 389.8,46.0 395.0,48.4 407.2,49.8 408.9,49.6 415.8,51.9 414.1,55.2 413.8,56.9 417.2,65.2 423.3,68.5 436.7,78.5 448.8,78.5 449.4,76.9 441.3,65.2 443.6,58.5 450.5,51.9 436.7,43.0ZM421.0,151.9 417.6,153.9 410.7,158.7 422.8,169.0 436.7,172.0 441.9,165.3 442.4,163.7 440.8,158.7 436.7,154.6 431.5,153.6 422.8,151.0ZM388.1,45.2 388.1,45.2ZM354.4,106.9 355.1,106.6 355.6,106.9 355.1,108.0ZM339.5,108.6 349.9,118.6 351.9,130.3 351.6,130.6 339.5,130.6ZM339.5,158.7 353.4,165.3 362.6,172.0 339.5,172.0Z" fill="#00c9ff" fill-rule="evenodd"/>
<path d="M432.0,38.5 459.2,38.5 478.3,38.5 478.3,65.2 478.3,87.5 464.4,78.5 450.5,74.1 444.4,65.2 445.3,62.4 446.5,60.2 450.5,56.3 454.0,55.2 457.5,51.9 450.5,47.4 441.9,43.2 436.9,40.2ZM394.4,53.5 395.0,51.9 408.9,58.5 411.7,65.2 422.8,71.1 432.7,78.5 429.7,83.6 428.0,85.2 422.8,88.1 415.8,85.2 408.9,87.5 402.0,85.2 395.2,80.2 393.4,78.5 392.4,66.9 391.6,61.9ZM345.3,66.9 353.4,65.2 372.0,78.5 371.9,81.9 370.7,83.4 367.3,84.5 363.8,88.2 353.4,91.0 339.5,78.5 341.7,68.5 343.0,67.3ZM408.9,98.6 410.6,105.2 415.8,111.9 415.8,125.3 420.0,131.9 422.8,135.3 424.5,134.5 424.8,133.6 424.0,131.9 424.0,120.3 424.8,118.6 429.7,113.0 431.5,112.7 436.7,113.8 442.7,118.6 448.6,130.3 449.3,131.9 444.6,140.3 442.4,145.3 450.5,153.1 459.2,158.7 460.3,167.0 460.1,168.7 457.5,172.0 443.6,172.0 446.2,168.7 446.2,167.0 443.6,158.7 436.7,152.0 428.0,150.3 422.8,148.7 417.6,151.7 408.9,157.4 407.2,157.4 393.3,158.7 391.6,157.0 391.6,155.3 389.8,153.6 388.1,153.6 386.3,152.0 386.3,150.3 381.1,145.3 383.5,135.3 384.6,133.6 386.7,131.9 381.1,123.0 367.3,118.6 379.4,117.4 379.8,116.9 378.8,105.2 377.4,101.9 377.7,101.6 381.1,102.6 395.0,102.4 407.2,103.7ZM339.5,111.9 339.5,110.8 347.6,118.6 349.0,126.9 348.2,127.9 339.5,127.9ZM374.2,138.6 374.2,138.6ZM381.1,160.3 382.9,158.7 395.0,158.7 408.9,172.0 381.1,172.0Z" fill="#00edff" fill-rule="evenodd"/>
<path d="M441.3,38.5 459.8,38.5 463.8,50.2 462.7,50.7 450.5,43.0ZM469.6,46.8 471.4,45.2 478.3,45.2 478.3,78.5 450.5,69.7 447.5,65.2 448.0,63.5 450.5,60.8 457.5,58.5ZM395.0,65.2 395.0,65.2ZM396.8,66.9 396.8,66.9ZM346.4,68.5 353.4,67.1 369.6,78.5 369.6,80.2 369.0,81.0 367.3,81.5 362.2,86.9 353.4,89.2 341.5,78.6 343.3,70.2 344.7,68.9ZM398.5,68.5 398.5,68.5ZM400.2,70.2 400.2,70.2ZM411.8,70.2 412.4,68.5 421.7,73.5 428.7,78.5 426.7,81.9 426.2,82.4 422.8,84.3 408.9,78.5ZM402.0,71.9 402.0,71.9ZM403.7,73.5 403.7,73.5ZM405.4,75.2 405.4,75.2ZM407.2,76.9 407.2,76.9ZM381.1,105.2 393.3,105.2 389.8,105.3ZM339.5,113.6 339.5,113.0 345.3,118.6 346.2,123.6 344.7,125.3 339.5,125.3ZM431.7,115.3 433.2,114.7 436.7,115.4 440.7,118.6 443.2,123.6 445.3,128.2 446.8,131.9 443.9,137.0 440.1,145.3 450.5,155.3 455.7,158.6 456.4,163.7 455.7,165.3 450.5,172.0 446.4,158.7 436.7,149.3 424.5,147.0 422.8,146.4 414.1,151.5 408.9,155.0 405.4,154.7 395.0,155.7 384.2,145.3 386.2,137.0 392.2,131.9 389.1,126.9 389.8,125.3 395.0,125.3 398.5,123.6 400.2,123.0 408.9,123.0 414.1,131.4 422.8,142.0 429.7,138.6 426.6,131.9 426.6,125.3 426.7,121.9 428.7,118.6Z" fill="#00feef" fill-rule="evenodd"/>
<path d="M450.5,38.5 450.5,38.5ZM478.3,53.5 478.3,75.6 471.4,71.9 450.5,65.2 461.0,61.9 464.4,58.5 467.2,55.2 467.9,54.8ZM347.6,70.2 353.4,69.0 367.3,78.5 361.0,85.2 360.3,85.7 353.4,87.5 343.5,78.5 345.0,71.9 346.4,70.4ZM419.3,75.2 422.4,76.9 424.8,78.5 423.2,80.2 422.8,80.5 418.2,78.5ZM339.5,115.3 343.0,118.6 343.5,121.9 343.0,122.6 339.5,122.6ZM434.2,116.9 434.9,116.6 436.7,117.0 438.7,118.6 441.1,123.6 444.2,131.9 441.9,136.1 437.8,145.3 450.0,157.0 452.3,158.6 452.5,160.3 452.3,160.9 450.5,163.1 449.2,158.7 436.7,146.6 429.7,145.3 433.2,143.6 433.8,142.0 429.1,131.9 429.1,125.3 429.7,123.6 432.7,118.6ZM408.9,131.9 420.8,145.3 412.2,150.3 408.9,152.6 402.0,152.0 395.0,152.7 387.3,145.3 388.5,140.3 389.5,138.6 395.0,134.2Z" fill="#00fbcf" fill-rule="evenodd"/>
<path d="M478.3,56.9 478.3,72.6 464.4,65.2 470.0,58.5 471.4,57.7ZM348.8,71.9 353.4,70.9 364.5,78.5 359.8,83.6 358.6,84.3 353.4,85.7 345.4,78.5 346.6,73.5 348.2,72.0ZM339.5,118.6 339.5,117.5 340.7,118.6 339.5,119.9ZM436.7,118.6 441.7,131.9 440.1,134.7 436.7,142.6 431.6,131.9 431.7,126.9ZM405.4,137.0 408.9,136.4 416.8,145.3 412.4,147.8 408.9,150.2 398.5,149.4 395.0,149.8 390.4,145.3 391.2,142.0 391.6,141.4 395.0,138.6Z" fill="#00f9b0" fill-rule="evenodd"/>
<path d="M478.3,60.2 478.3,69.7 470.0,65.2 473.1,61.4 474.8,60.6ZM349.9,73.5 353.4,72.8 361.7,78.6 358.6,81.9 356.9,83.0 353.4,83.9 347.4,78.5 348.2,75.2ZM435.7,126.9 436.7,125.3 439.2,131.9 438.3,133.6 436.7,137.3 434.1,131.9 434.1,130.3 434.9,128.2ZM402.0,142.0 408.9,140.8 412.9,145.3 408.9,147.7 396.8,146.7 395.0,146.8 393.5,145.3 394.3,143.6 395.0,143.1Z" fill="#00f690" fill-rule="evenodd"/>
<path d="M478.3,63.5 478.3,66.7 475.5,65.2 476.6,63.9ZM351.1,75.2 353.4,74.7 358.9,78.5 356.9,80.8 355.1,81.7 353.4,82.1 349.4,78.5 349.9,76.3ZM436.7,131.9 436.7,131.9ZM408.9,145.3 408.9,145.3Z" fill="#02f570" fill-rule="evenodd"/>
<path d="M352.2,76.9 353.4,76.6 356.2,78.5 355.1,79.7 353.4,80.3 351.4,78.5 351.6,77.4Z" fill="#07f550" fill-rule="evenodd"/>
<path d="M339.5,38.5ZM362.6,38.5 360.6,45.2 360.5,51.9 359.8,56.9 359.8,58.5 361.1,65.2 369.0,70.9 379.0,78.5 378.8,88.6 377.7,90.0 371.9,91.9 381.1,94.6 395.0,94.0 396.8,94.2 397.7,93.6 398.2,91.9 394.0,88.6 384.0,78.5 384.0,68.5 383.7,65.2 381.1,51.9 374.2,38.5M388.4,38.5 395.0,41.6 398.5,42.0 408.9,40.7 412.4,41.8 411.7,38.5M433.2,47.8 431.8,48.5 431.1,51.9 436.7,60.8 438.4,55.7 439.6,53.5 441.3,51.8 436.7,48.9ZM443.6,85.6 436.7,91.9 428.3,98.6 422.8,102.6 421.0,102.9 420.6,103.6 421.0,105.2 422.8,107.5 423.3,106.9 424.5,106.4 436.7,109.1 448.7,118.6 450.5,122.1 460.7,131.9 458.2,138.6 457.5,139.4 450.5,143.1 449.4,145.3 450.5,146.4 454.0,148.6 464.4,153.2 469.6,151.8 471.4,150.3 473.9,145.3 471.1,138.6 469.6,131.9 464.2,128.6 453.7,118.6 454.0,105.2 456.0,96.9 459.6,91.9 450.5,85.4ZM367.3,94.7 362.1,98.9 361.2,100.2 360.5,105.2 367.3,110.4 370.7,110.1 372.0,108.6 371.7,105.2ZM360.3,140.0 359.2,145.3 357.7,148.6 357.5,150.3 357.5,158.7 367.3,166.9 372.5,164.9 373.4,163.7 373.4,158.7 371.8,150.3 371.7,145.3 367.3,141.1 362.1,139.3ZM339.5,145.3 339.5,145.3ZM421.0,156.5 417.8,158.7 422.8,162.9 428.0,164.0 428.9,163.7 433.0,158.7 422.8,155.5Z" fill="none" stroke="#444" stroke-opacity="0.38" stroke-width="0.6" stroke-dasharray="1.6,1.2"/>
<path d="M459.8,38.5 463.8,50.2 462.7,50.7 450.5,43.0 441.3,38.5M346.4,68.5 353.4,67.1 369.6,78.5 369.6,80.2 369.0,81.0 367.3,81.5 362.2,86.9 353.4,89.2 341.5,78.5 343.3,70.2 344.7,68.9ZM411.8,70.2 412.4,68.5 421.7,73.5 428.7,78.5 426.7,81.9 426.2,82.4 422.8,84.3 408.9,78.5ZM478.3,78.5 450.5,69.6 447.5,65.2 448.0,63.5 450.5,60.8 457.5,58.5 471.4,45.2 478.3,45.2M339.5,113.0 345.3,118.6 346.2,123.6 344.7,125.3 339.5,125.3M431.7,115.3 433.2,114.7 436.7,115.4 440.7,118.6 443.2,123.6 445.3,128.2 446.8,131.9 443.9,137.0 440.1,145.3 450.5,155.3 455.7,158.7 456.4,163.7 455.7,165.3 450.5,172.0 446.4,158.7 436.7,149.3 424.5,147.0 422.8,146.4 414.1,151.5 408.9,155.0 405.4,154.7 395.0,155.7 384.2,145.3 386.2,137.0 392.2,131.9 389.1,126.9 389.8,125.3 395.0,125.3 398.5,123.6 400.2,123.0 408.9,123.0 414.1,131.4 422.8,142.0 429.7,138.6 426.6,131.9 426.6,125.3 426.7,121.9 428.7,118.6Z" fill="none" stroke="#444" stroke-opacity="0.38" stroke-width="0.6" stroke-dasharray="1.6,1.2"/>
<path d="M478.3,66.7 475.5,65.2 476.6,63.9 478.3,63.5M351.1,75.2 353.4,74.7 358.9,78.5 356.9,80.8 355.1,81.7 353.4,82.1 349.4,78.5 349.9,76.3Z" fill="none" stroke="#444" stroke-opacity="0.38" stroke-width="0.6" stroke-dasharray="1.6,1.2"/>
<rect x="339.5" y="38.5" width="138.8" height="133.5" fill="none" stroke="#000" stroke-width="1.3"/>
<line x1="339.50" y1="172.0" x2="339.50" y2="175.0" stroke="#000" stroke-width="1.2"/>
<text x="339.50" y="183.10" font-size="8.6" text-anchor="middle" font-family="'Liberation Sans', sans-serif" font-weight="bold">-15</text>
<line x1="336.5" y1="172.00" x2="339.5" y2="172.00" stroke="#000" stroke-width="1.2"/>
<text x="335.0" y="175.10" font-size="8.6" text-anchor="end" font-family="'Liberation Sans', sans-serif" font-weight="bold">-15</text>
<line x1="351.07" y1="172.0" x2="351.07" y2="173.8" stroke="#000" stroke-width="1"/>
<line x1="337.7" y1="160.88" x2="339.5" y2="160.88" stroke="#000" stroke-width="1"/>
<line x1="362.63" y1="172.0" x2="362.63" y2="175.0" stroke="#000" stroke-width="1.2"/>
<text x="362.63" y="183.10" font-size="8.6" text-anchor="middle" font-family="'Liberation Sans', sans-serif" font-weight="bold">-10</text>
<line x1="336.5" y1="149.75" x2="339.5" y2="149.75" stroke="#000" stroke-width="1.2"/>
<text x="335.0" y="152.85" font-size="8.6" text-anchor="end" font-family="'Liberation Sans', sans-serif" font-weight="bold">-10</text>
<line x1="374.20" y1="172.0" x2="374.20" y2="173.8" stroke="#000" stroke-width="1"/>
<line x1="337.7" y1="138.62" x2="339.5" y2="138.62" stroke="#000" stroke-width="1"/>
<line x1="385.77" y1="172.0" x2="385.77" y2="175.0" stroke="#000" stroke-width="1.2"/>
<text x="385.77" y="183.10" font-size="8.6" text-anchor="middle" font-family="'Liberation Sans', sans-serif" font-weight="bold">-5</text>
<line x1="336.5" y1="127.50" x2="339.5" y2="127.50" stroke="#000" stroke-width="1.2"/>
<text x="335.0" y="130.60" font-size="8.6" text-anchor="end" font-family="'Liberation Sans', sans-serif" font-weight="bold">-5</text>
<line x1="397.33" y1="172.0" x2="397.33" y2="173.8" stroke="#000" stroke-width="1"/>
<line x1="337.7" y1="116.38" x2="339.5" y2="116.38" stroke="#000" stroke-width="1"/>
<line x1="408.90" y1="172.0" x2="408.90" y2="175.0" stroke="#000" stroke-width="1.2"/>
<text x="408.90" y="183.10" font-size="8.6" text-anchor="middle" font-family="'Liberation Sans', sans-serif" font-weight="bold">0</text>
<line x1="336.5" y1="105.25" x2="339.5" y2="105.25" stroke="#000" stroke-width="1.2"/>
<text x="335.0" y="108.35" font-size="8.6" text-anchor="end" font-family="'Liberation Sans', sans-serif" font-weight="bold">0</text>
<line x1="420.47" y1="172.0" x2="420.47" y2="173.8" stroke="#000" stroke-width="1"/>
<line x1="337.7" y1="94.12" x2="339.5" y2="94.12" stroke="#000" stroke-width="1"/>
<line x1="432.03" y1="172.0" x2="432.03" y2="175.0" stroke="#000" stroke-width="1.2"/>
<text x="432.03" y="183.10" font-size="8.6" text-anchor="middle" font-family="'Liberation Sans', sans-serif" font-weight="bold">5</text>
<line x1="336.5" y1="83.00" x2="339.5" y2="83.00" stroke="#000" stroke-width="1.2"/>
<text x="335.0" y="86.10" font-size="8.6" text-anchor="end" font-family="'Liberation Sans', sans-serif" font-weight="bold">5</text>
<line x1="443.60" y1="172.0" x2="443.60" y2="173.8" stroke="#000" stroke-width="1"/>
<line x1="337.7" y1="71.88" x2="339.5" y2="71.88" stroke="#000" stroke-width="1"/>
<line x1="455.17" y1="172.0" x2="455.17" y2="175.0" stroke="#000" stroke-width="1.2"/>
<text x="455.17" y="183.10" font-size="8.6" text-anchor="middle" font-family="'Liberation Sans', sans-serif" font-weight="bold">10</text>
<line x1="336.5" y1="60.75" x2="339.5" y2="60.75" stroke="#000" stroke-width="1.2"/>
<text x="335.0" y="63.85" font-size="8.6" text-anchor="end" font-family="'Liberation Sans', sans-serif" font-weight="bold">10</text>
<line x1="466.73" y1="172.0" x2="466.73" y2="173.8" stroke="#000" stroke-width="1"/>
<line x1="337.7" y1="49.62" x2="339.5" y2="49.62" stroke="#000" stroke-width="1"/>
<line x1="478.30" y1="172.0" x2="478.30" y2="175.0" stroke="#000" stroke-width="1.2"/>
<text x="478.30" y="183.10" font-size="8.6" text-anchor="middle" font-family="'Liberation Sans', sans-serif" font-weight="bold">15</text>
<line x1="336.5" y1="38.50" x2="339.5" y2="38.50" stroke="#000" stroke-width="1.2"/>
<text x="335.0" y="41.60" font-size="8.6" text-anchor="end" font-family="'Liberation Sans', sans-serif" font-weight="bold">15</text>
<defs><linearGradient id="cb1" x1="0" y1="0" x2="0" y2="1"><stop offset="0.0000" stop-color="#ff0a00"/><stop offset="0.0167" stop-color="#ff1a00"/><stop offset="0.0333" stop-color="#ff2b00"/><stop offset="0.0500" stop-color="#ff3b00"/><stop offset="0.0667" stop-color="#ff4b00"/><stop offset="0.0833" stop-color="#ff5b00"/><stop offset="0.1000" stop-color="#ff6c00"/><stop offset="0.1167" stop-color="#ff7c00"/><stop offset="0.1333" stop-color="#ff8c00"/><stop offset="0.1500" stop-color="#ff9f00"/><stop offset="0.1667" stop-color="#ffb200"/><stop offset="0.1833" stop-color="#ffc600"/><stop offset="0.2000" stop-color="#ffd900"/><stop offset="0.2167" stop-color="#ffec00"/><stop offset="0.2333" stop-color="#ffff00"/><stop offset="0.2500" stop-color="#f1ff00"/><stop offset="0.2667" stop-color="#e3ff00"/><stop offset="0.2833" stop-color="#d5ff00"/><stop offset="0.3000" stop-color="#c6ff00"/><stop offset="0.3167" stop-color="#b8ff00"/><stop offset="0.3333" stop-color="#aaff00"/><stop offset="0.3500" stop-color="#97fe00"/><stop offset="0.3667" stop-color="#85fc00"/><stop offset="0.3833" stop-color="#72fb00"/><stop offset="0.4000" stop-color="#5ffa00"/><stop offset="0.4167" stop-color="#4cf900"/><stop offset="0.4333" stop-color="#39f800"/><stop offset="0.4500" stop-color="#27f600"/><stop offset="0.4667" stop-color="#14f500"/><stop offset="0.4833" stop-color="#11f510"/><stop offset="0.5000" stop-color="#0ff520"/><stop offset="0.5167" stop-color="#0cf530"/><stop offset="0.5333" stop-color="#0af540"/><stop offset="0.5500" stop-color="#07f550"/><stop offset="0.5667" stop-color="#05f560"/><stop offset="0.5833" stop-color="#03f570"/><stop offset="0.6000" stop-color="#00f580"/><stop offset="0.6167" stop-color="#00f690"/><stop offset="0.6333" stop-color="#00f8a0"/><stop offset="0.6500" stop-color="#00f9b0"/><stop offset="0.6667" stop-color="#00fabf"/><stop offset="0.6833" stop-color="#00fbcf"/><stop offset="0.7000" stop-color="#00fcdf"/><stop offset="0.7167" stop-color="#00feef"/><stop offset="0.7333" stop-color="#00ffff"/><stop offset="0.7500" stop-color="#00edff"/><stop offset="0.7667" stop-color="#00dbff"/><stop offset="0.7833" stop-color="#00c9ff"/><stop offset="0.8000" stop-color="#00b6ff"/><stop offset="0.8167" stop-color="#00a4ff"/><stop offset="0.8333" stop-color="#0092ff"/><stop offset="0.8500" stop-color="#0080ff"/><stop offset="0.8667" stop-color="#006eff"/><stop offset="0.8833" stop-color="#0060fe"/><stop offset="0.9000" stop-color="#0052fc"/><stop offset="0.9167" stop-color="#0045fb"/><stop offset="0.9333" stop-color="#0037fa"/><stop offset="0.9500" stop-color="#0029f9"/><stop offset="0.9667" stop-color="#001bf8"/><stop offset="0.9833" stop-color="#000ef6"/><stop offset="1.0000" stop-color="#0000f5"/></linearGradient></defs>
<rect x="490.7" y="43.5" width="22.80" height="127.00" fill="url(#cb1)" stroke="#000" stroke-width="1.2"/>
<line x1="513.5" y1="170.50" x2="516.0" y2="170.50" stroke="#000" stroke-width="1.2"/>
<text x="519.4" y="173.90" font-size="8.6" font-family="'Liberation Sans', sans-serif" font-weight="bold">0.01</text>
<line x1="513.5" y1="153.57" x2="516.0" y2="153.57" stroke="#000" stroke-width="1.2"/>
<text x="519.4" y="156.97" font-size="8.6" font-family="'Liberation Sans', sans-serif" font-weight="bold">0.09</text>
<line x1="513.5" y1="136.63" x2="516.0" y2="136.63" stroke="#000" stroke-width="1.2"/>
<text x="519.4" y="140.03" font-size="8.6" font-family="'Liberation Sans', sans-serif" font-weight="bold">0.17</text>
<line x1="513.5" y1="119.70" x2="516.0" y2="119.70" stroke="#000" stroke-width="1.2"/>
<text x="519.4" y="123.10" font-size="8.6" font-family="'Liberation Sans', sans-serif" font-weight="bold">0.25</text>
<line x1="513.5" y1="102.77" x2="516.0" y2="102.77" stroke="#000" stroke-width="1.2"/>
<text x="519.4" y="106.17" font-size="8.6" font-family="'Liberation Sans', sans-serif" font-weight="bold">0.33</text>
<line x1="513.5" y1="85.83" x2="516.0" y2="85.83" stroke="#000" stroke-width="1.2"/>
<text x="519.4" y="89.23" font-size="8.6" font-family="'Liberation Sans', sans-serif" font-weight="bold">0.41</text>
<line x1="513.5" y1="68.90" x2="516.0" y2="68.90" stroke="#000" stroke-width="1.2"/>
<text x="519.4" y="72.30" font-size="8.6" font-family="'Liberation Sans', sans-serif" font-weight="bold">0.49</text>
<line x1="513.5" y1="51.97" x2="516.0" y2="51.97" stroke="#000" stroke-width="1.2"/>
<text x="519.4" y="55.37" font-size="8.6" font-family="'Liberation Sans', sans-serif" font-weight="bold">0.57</text>
<text x="487.5" y="33.4" font-size="15.4" font-family="'Liberation Sans', sans-serif" font-weight="bold">I</text><text x="491.8" y="38.2" font-size="10.3" font-family="'Liberation Sans', sans-serif" font-weight="bold">(D/G)</text>
<text x="301.1" y="27.6" font-size="16" font-family="'Liberation Sans', sans-serif" font-weight="bold">(b)</text>
<text x="408.8" y="197.4" font-size="11.4" text-anchor="middle" font-family="'Liberation Sans', sans-serif" font-weight="bold">x (µm)</text>
<text transform="translate(321.4,105.2) rotate(-90)" font-size="11.3" text-anchor="middle" font-family="'Liberation Sans', sans-serif" font-weight="bold">y (µm)</text>
<rect x="63.3" y="267.7" width="143.39999999999998" height="138.3" fill="#0000f5"/>
<path d="M63.3,267.7 92.0,267.7 120.7,267.7 149.3,267.7 178.0,267.7 206.7,267.7 206.7,295.4 206.7,323.0 206.7,350.7 206.7,378.3 206.7,406.0 178.0,406.0 149.3,406.0 120.7,406.0 92.0,406.0 63.3,406.0 63.3,378.3 63.3,350.7 63.3,323.0 63.3,295.4Z" fill="#000ef6" fill-rule="evenodd"/>
<path d="M63.3,267.7 92.0,267.7 120.7,267.7 149.3,267.7 178.0,267.7 206.7,267.7 206.7,295.4 206.7,323.0 206.7,350.7 206.7,378.3 206.7,406.0 178.0,406.0 149.3,406.0 120.7,406.0 92.0,406.0 63.3,406.0 63.3,378.3 63.3,350.7 63.3,323.0 63.3,295.4Z" fill="#0029f9" fill-rule="evenodd"/>
<path d="M63.3,267.7 92.0,267.7 120.7,267.7 149.3,267.7 178.0,267.7 206.7,267.7 206.7,295.4 206.7,323.0 206.7,350.7 206.7,378.3 206.7,406.0 178.0,406.0 149.3,406.0 120.7,406.0 92.0,406.0 63.3,406.0 63.3,378.3 63.3,350.7 63.3,323.0 63.3,295.4Z" fill="#0045fb" fill-rule="evenodd"/>
<path d="M63.3,267.7 92.0,267.7 120.7,267.7 149.3,267.7 178.0,267.7 206.7,267.7 206.7,295.4 206.7,323.0 206.7,350.7 206.7,378.3 206.7,406.0 178.0,406.0 149.3,406.0 120.7,406.0 92.0,406.0 63.3,406.0 63.3,378.3 63.3,350.7 63.3,323.0 63.3,295.4Z" fill="#0060fe" fill-rule="evenodd"/>
<path d="M63.3,267.7 92.0,267.7 120.7,267.7 149.3,267.7 178.0,267.7 206.7,267.7 206.7,295.4 206.7,323.0 206.7,350.7 206.7,378.3 206.7,406.0 178.0,406.0 149.3,406.0 120.7,406.0 92.0,406.0 63.3,406.0 63.3,378.3 63.3,350.7 63.3,323.0 63.3,295.4ZM163.7,376.6 161.9,378.3 163.7,380.5 165.5,380.7 166.3,380.1 166.3,378.3Z" fill="#0080ff" fill-rule="evenodd"/>
<path d="M63.3,267.7 92.0,267.7 120.7,267.7 149.3,267.7 178.0,267.7 206.7,267.7 206.7,295.4 206.7,323.0 206.7,350.7 206.7,378.3 206.7,406.0 178.0,406.0 149.3,406.0 120.7,406.0 92.0,406.0 63.3,406.0 63.3,378.3 63.3,350.7 63.3,323.0 63.3,295.4ZM161.9,375.0 160.2,376.6 160.1,378.3 163.7,382.6 167.3,383.1 168.9,381.8 168.9,378.3 163.7,374.9Z" fill="#00a4ff" fill-rule="evenodd"/>
<path d="M63.3,267.7 92.0,267.7 120.7,267.7 149.3,267.7 178.0,267.7 206.7,267.7 206.7,295.4 206.7,323.0 206.7,350.7 206.7,378.3 206.7,406.0 178.0,406.0 151.9,406.0 149.3,402.0 136.8,393.4 136.2,393.9 144.6,406.0 117.1,406.0 88.4,406.0 63.3,406.0 63.3,378.3 63.3,350.7 63.3,323.0 63.3,295.4ZM135.0,294.1 133.4,295.4 135.0,296.5 135.8,295.4ZM160.1,373.4 158.5,374.9 158.3,378.3 163.7,384.7 170.8,385.8 171.5,385.3 171.5,378.3 163.7,373.2ZM188.8,281.0 187.6,281.5 192.4,285.0 193.3,283.3 193.8,281.5 192.4,280.3 190.6,280.3Z" fill="#00c9ff" fill-rule="evenodd"/>
<path d="M65.1,267.7 92.0,267.7 120.7,267.7 149.3,267.7 178.0,267.7 206.7,267.7 206.7,295.4 206.7,323.0 206.7,350.7 206.7,378.3 206.7,406.0 178.0,406.0 154.6,406.0 149.3,398.1 140.7,392.2 135.0,389.4 134.1,390.4 133.4,392.2 135.0,399.1 139.8,406.0 111.7,406.0 83.0,406.0 63.3,406.0 63.3,378.3 63.3,350.7 63.3,323.0 63.3,295.4 63.3,281.5ZM77.6,363.4 76.5,364.5 77.6,373.7 78.1,366.2 79.4,365.0 92.0,365.0 93.1,364.5 92.0,363.3ZM135.0,291.6 133.2,292.2 131.4,293.6 130.2,295.4 135.0,298.8 138.6,299.7 139.2,298.8ZM158.3,371.7 156.8,373.2 156.5,378.3 163.7,386.9 172.6,388.2 174.1,387.0 174.1,378.3 163.7,371.4ZM187.0,277.8 178.0,281.5 163.7,281.5 162.4,293.6 163.7,300.0 165.5,298.8 167.3,298.1 178.0,298.1 178.9,297.1 179.8,296.5 185.2,295.4 178.9,283.3 179.8,282.8 192.4,291.9 195.9,285.0 196.7,281.5 192.4,277.8 188.8,277.4ZM163.7,323.0 163.7,323.0Z" fill="#00edff" fill-rule="evenodd"/>
<path d="M68.7,267.7 95.6,267.7 124.2,267.7 152.9,267.7 181.6,267.7 206.7,267.7 206.7,295.4 206.7,323.0 206.7,350.7 206.7,378.3 206.7,406.0 178.0,406.0 157.2,406.0 149.3,394.1 145.8,391.8 135.0,386.6 133.2,388.7 132.2,390.4 131.8,392.2 135.0,406.0 108.1,406.0 79.4,406.0 63.3,406.0 63.3,378.3 63.3,350.7 63.3,323.0 63.3,285.0 66.9,281.5ZM90.2,360.9 77.6,361.1 75.8,361.6 74.7,362.8 74.3,364.5 75.8,376.6 75.6,378.3 77.6,380.5 78.5,378.3 79.2,366.2 79.4,366.0 92.0,366.0 93.8,365.7 95.3,364.5 92.0,360.7ZM133.2,289.7 131.4,290.3 129.4,291.9 127.0,295.4 135.0,301.1 142.2,302.9 142.5,302.3 135.0,289.1ZM156.5,370.1 155.2,371.4 154.7,378.3 163.7,389.0 176.2,390.8 176.7,390.4 176.7,378.3 163.7,369.7ZM185.2,274.6 178.0,277.6 174.4,277.1 163.7,276.9 161.9,278.1 160.8,279.8 159.9,291.9 161.1,295.4 163.7,309.2 172.6,303.7 178.0,303.7 181.6,299.5 183.4,298.8 192.4,296.9 194.2,295.4 198.5,286.7 199.5,281.5 192.4,275.2ZM163.7,309.2 159.2,317.8 159.1,319.6 159.6,323.0 163.7,326.1 170.8,330.7 171.6,329.9 166.5,323.0ZM172.6,331.4 172.3,331.7 172.6,331.9 172.8,331.7ZM178.0,343.8 176.2,349.0 176.6,350.7 178.0,353.0 178.5,352.4 179.2,350.7Z" fill="#00feef" fill-rule="evenodd"/>
<path d="M72.3,267.7 99.1,267.7 127.8,267.7 156.5,267.7 185.2,267.7 206.7,267.7 206.7,295.4 206.7,323.0 206.7,350.7 205.3,362.8 205.5,364.5 204.6,374.9 204.0,376.6 201.9,378.3 206.7,382.9 206.7,406.0 178.0,406.0 159.8,406.0 152.9,395.6 156.5,392.2 149.3,389.4 147.5,389.4 145.8,389.1 135.0,383.9 131.4,388.0 131.0,388.7 130.2,392.2 132.8,404.3 131.8,406.0 104.5,406.0 75.8,406.0 63.3,406.0 63.3,378.3 63.3,350.7 63.3,323.0 63.3,288.4 70.5,281.5ZM88.4,308.8 87.2,309.2 92.0,311.2 93.8,310.5 94.8,309.2 90.2,308.3ZM135.0,286.6 129.6,288.4 127.8,289.6 123.8,295.4 135.0,303.4 145.8,306.0 145.9,305.7 141.2,297.1ZM163.7,272.3 158.3,275.8 157.9,276.3 157.8,283.3 157.2,288.4 157.6,290.2 159.5,295.4 161.4,305.7 161.0,307.5 156.5,309.2 154.7,312.6 154.2,314.4 155.5,323.0 163.7,329.2 175.6,336.9 172.6,345.5 173.7,350.7 178.0,357.6 180.7,354.1 181.3,352.4 181.6,350.7 179.5,338.6 179.8,336.9 178.0,334.9 169.4,323.0 167.3,312.6 178.0,309.2 184.0,302.3 185.2,301.5 190.6,300.4 195.9,298.8 200.4,290.2 202.4,281.5 192.4,272.7 183.4,271.9 181.6,272.1 178.0,273.6 169.1,272.4ZM90.2,335.1 77.6,335.1 76.4,336.9 77.6,338.6 81.2,338.8 92.0,338.8 92.9,338.6 93.6,336.9 92.0,334.9ZM135.0,359.9 133.2,362.8 134.0,364.5 135.0,369.1 138.6,369.1 139.6,368.0 139.1,364.5ZM154.7,368.5 153.5,369.7 152.9,378.3 163.7,391.1 170.8,392.2 178.0,395.6 180.2,393.9 180.9,392.2 180.9,378.3 178.0,374.9 176.2,375.3 174.4,375.1 163.7,368.0ZM77.6,358.7 74.1,359.9 73.0,361.1 72.1,364.5 73.2,373.2 72.9,378.3 77.6,383.4 78.6,380.1 79.5,378.3 80.1,368.0 81.2,367.0 93.8,366.9 95.6,366.0 97.5,364.5 92.0,358.2 84.8,358.7Z" fill="#00fbcf" fill-rule="evenodd"/>
<path d="M75.8,267.7 102.7,267.7 131.4,267.7 160.1,267.7 188.8,267.7 206.7,267.7 206.7,295.4 206.7,323.0 206.7,349.9 204.9,348.5 203.1,349.0 203.5,350.7 202.5,359.3 202.5,361.1 203.1,364.5 202.4,373.2 201.3,374.9 197.1,378.3 206.7,387.6 206.7,406.0 178.0,406.0 162.4,406.0 160.1,402.5 163.7,399.1 170.9,399.1 178.0,402.5 183.4,398.7 184.5,397.4 186.6,392.2 186.6,378.3 178.0,368.0 170.9,369.7 169.1,369.8 163.7,366.2 152.9,366.9 151.8,368.0 151.1,378.3 157.0,385.3 156.5,386.6 149.3,383.9 142.2,383.9 140.0,383.5 135.0,381.1 129.9,387.0 128.6,392.2 130.6,400.8 130.6,402.5 128.6,406.0 100.9,406.0 80.5,406.0 77.6,401.4 70.5,399.1 63.3,401.4 63.3,374.9 63.3,347.2 63.3,319.6 63.3,291.9 74.1,281.5ZM84.8,307.1 77.6,309.2 92.0,315.1 95.6,314.1 97.4,313.1 100.6,309.2 91.7,307.5 88.4,306.1ZM133.2,284.7 127.8,286.6 126.0,287.6 120.7,295.4 135.0,305.7 147.5,308.8 148.4,307.5 143.7,298.8 135.0,284.0ZM161.9,268.9 155.6,272.9 155.1,274.6 155.1,281.5 154.6,286.7 157.8,295.4 159.4,304.0 158.3,305.7 149.3,309.2 151.4,323.0 163.7,332.2 170.8,336.9 169.1,342.0 170.8,350.7 178.0,362.2 182.9,355.9 184.0,350.7 182.5,342.0 182.5,340.3 183.4,336.9 178.0,330.9 172.3,323.0 170.8,316.1 178.0,313.8 181.6,310.3 187.0,304.3 192.4,303.0 197.7,301.3 198.6,300.5 203.1,291.9 205.3,281.5 192.4,270.2 179.8,269.1 178.0,269.7 163.7,267.7ZM88.4,331.4 86.6,331.7 77.6,331.7 74.8,333.4 74.2,335.1 74.1,336.9 77.6,342.0 83.0,342.7 92.0,342.8 95.6,341.8 96.8,340.3 96.8,336.9 92.0,330.9ZM135.0,355.3 131.4,361.1 133.0,364.5 135.0,373.7 144.0,373.7 144.5,373.2 143.2,364.5ZM203.1,347.1 202.7,347.2 203.1,349.0ZM90.2,355.9 84.8,356.3 77.6,356.4 72.3,358.2 71.2,359.3 69.9,364.5 70.7,371.4 70.1,378.3 77.6,386.3 79.4,380.1 80.6,378.3 81.2,368.0 93.8,367.9 95.6,367.8 99.7,364.5 92.0,355.7ZM157.4,387.0 158.3,386.9 158.3,387.3Z" fill="#00f9b0" fill-rule="evenodd"/>
<path d="M79.7,267.7 108.1,267.7 136.8,267.7 156.5,267.7 152.9,270.0 152.2,271.2 152.0,283.3 152.3,285.0 156.1,295.4 157.4,302.3 156.5,303.7 149.3,306.4 144.2,297.1 135.0,281.5 126.0,284.7 124.2,285.6 120.7,290.8 115.3,289.0 114.6,290.2 117.8,295.4 120.7,309.2 129.6,304.9 131.4,305.4 135.0,308.0 139.8,309.2 142.2,316.1 135.0,323.0 149.3,326.5 156.5,329.9 166.1,336.9 165.5,338.6 168.0,350.7 174.4,361.1 163.7,364.5 151.1,365.3 150.1,366.2 149.3,378.3 135.0,378.3 129.0,385.3 128.2,387.0 127.0,392.2 128.6,399.1 128.4,400.8 125.4,406.0 97.4,406.0 83.4,406.0 77.6,396.8 63.3,392.2 63.3,366.2 63.3,338.6 63.3,310.9 63.3,295.4 77.6,281.5 82.1,272.9 81.7,271.2ZM113.5,288.4 113.5,288.4ZM127.8,316.1 127.8,316.1ZM135.0,350.7 129.6,359.3 132.0,364.5 135.0,378.3 147.5,378.3 149.1,376.6 147.3,364.5ZM65.1,296.7 63.9,297.1 68.1,309.2 77.6,314.7 84.8,316.1 92.0,319.1 99.1,317.1 100.9,315.7 106.3,309.2 92.0,306.5 86.7,304.0 86.0,304.0 77.6,306.4ZM83.0,328.2 77.6,328.2 72.3,331.4 71.7,336.9 77.6,345.5 86.6,346.6 92.0,346.7 99.1,344.8 99.9,343.8 99.9,336.9 92.0,327.0ZM83.0,354.0 77.6,354.1 70.5,356.4 69.4,357.6 67.7,364.5 68.3,369.7 67.4,378.3 77.6,389.3 79.3,383.5 80.5,380.1 81.7,378.3 82.2,369.7 83.0,369.0 95.6,368.8 97.5,368.0 101.9,364.5 92.0,353.2ZM192.4,267.7 206.7,267.7 206.7,274.6ZM206.3,290.2 206.7,288.4 206.7,316.1 206.7,349.2 199.5,343.6 198.7,343.8 200.3,350.7 199.5,357.6 200.7,364.5 200.1,371.4 199.5,372.4 192.4,378.3 206.7,392.2 206.7,406.0 182.8,406.0 187.6,402.5 188.8,400.8 192.4,392.2 192.4,378.3 179.8,364.5 185.2,357.6 186.4,350.7 185.2,343.8 187.0,336.9 178.0,327.0 175.2,323.0 174.4,319.6 178.0,318.4 188.8,307.8 190.6,306.5 199.5,303.8 201.3,302.3 205.6,293.6Z" fill="#00f690" fill-rule="evenodd"/>
<path d="M83.8,267.7 111.7,267.7 149.3,267.7 149.3,281.5 154.4,295.4 155.4,300.5 154.7,301.6 149.3,303.7 144.0,293.9 138.6,285.0 149.3,281.5 135.0,280.3 131.4,278.1 127.8,281.5 122.5,283.5 120.7,286.1 108.1,282.1 107.4,283.3 114.9,295.4 117.1,305.7 106.3,305.7 105.2,307.5 104.5,307.8 92.0,305.5 84.8,302.0 82.4,302.3 77.6,303.7 66.9,295.4 77.6,285.0 78.7,283.3 79.4,282.8 92.0,281.5ZM206.7,298.8 206.7,323.0 206.7,348.4 195.9,340.0 194.8,340.3 197.1,350.7 196.7,354.1 198.3,364.5 197.7,369.9 192.4,374.4 183.4,364.5 187.3,359.3 188.8,350.7 188.2,347.2 188.3,345.5 190.6,336.9 178.0,323.0 192.4,309.2 203.1,305.7ZM107.1,310.9 108.1,310.0 120.7,310.0 134.1,323.0 135.0,329.9 149.3,333.4 156.5,336.9 163.7,343.8 165.1,350.7 167.3,354.1 149.3,359.9 142.2,350.7 135.0,343.8 132.1,347.2 132.0,349.0 132.1,350.7 127.8,357.6 131.0,364.5 133.6,376.6 133.2,377.7 128.1,383.5 127.0,385.3 125.4,392.2 126.6,397.4 126.0,399.4 122.3,406.0 86.2,406.0 77.6,392.2 80.6,381.8 82.8,378.3 83.2,371.4 84.8,369.9 92.0,369.9 97.5,369.7 104.1,364.5 92.0,350.7 77.6,351.8 68.7,354.7 67.6,355.9 65.5,364.5 65.7,368.0 64.7,378.3 74.4,388.7 74.1,389.9 63.3,383.0 63.3,355.9 63.3,328.2 63.3,311.2 72.3,317.1 77.6,320.3 92.0,323.0 102.7,320.1 103.5,319.6 106.3,316.1ZM81.2,324.5 79.4,324.7 77.6,324.7 70.5,329.1 69.9,329.9 69.3,336.9 77.6,349.0 92.0,350.7 102.7,347.7 103.1,347.2 103.1,336.9 92.0,323.0ZM75.0,390.4 75.8,390.3 76.0,390.4 75.8,391.0ZM195.9,395.6 206.7,395.6 206.7,406.0 192.4,406.0Z" fill="#02f570" fill-rule="evenodd"/>
<path d="M87.9,267.7 115.3,267.7 148.0,267.7 148.0,279.8 147.5,280.2 135.0,279.1 127.8,274.6 120.7,281.5 106.3,274.6 92.0,274.6ZM89.3,283.3 92.0,283.0 95.6,285.4 97.4,286.1 106.3,286.1 112.1,295.4 113.5,302.3 106.3,302.3 104.1,305.7 102.7,306.4 92.0,304.4 83.0,300.1 81.2,299.9 77.6,300.9 70.5,295.4 77.6,288.4 79.8,285.0 81.2,284.1ZM147.5,286.7 149.3,286.1 152.7,295.4 153.3,298.8 152.9,299.5 149.3,300.9 142.2,288.4ZM206.7,305.7 206.7,329.9 206.7,347.7 192.8,336.9 192.4,334.1 182.8,323.0 192.4,313.8 193.6,310.9 194.2,310.4 201.3,309.3 204.9,308.2 205.8,307.5ZM108.1,310.9 120.7,310.9 133.2,323.0 135.0,336.9 129.3,343.8 128.7,345.5 129.3,350.7 126.0,355.9 130.1,364.5 132.3,374.9 131.9,376.6 125.8,383.5 123.8,392.2 124.6,395.6 124.0,397.4 121.1,402.5 120.3,404.3 120.1,406.0 89.1,406.0 84.8,399.1 78.5,392.2 81.4,381.8 83.9,378.3 84.3,371.4 84.8,370.9 97.4,370.7 99.1,370.1 106.3,364.5 106.3,336.9 106.3,323.0ZM63.3,316.1 63.3,315.1 74.8,323.0 68.7,326.7 67.6,328.2 66.9,336.9 74.1,347.2 74.1,350.7 66.9,353.0 65.8,354.1 63.3,364.5 63.3,338.6ZM136.8,338.6 136.8,338.6ZM138.6,340.3 138.6,340.3ZM140.4,342.0 140.4,342.0ZM142.2,343.8 142.2,343.8ZM192.4,343.8 194.0,350.7 193.9,352.4 195.9,364.5 195.8,366.2 195.3,368.0 192.4,370.4 187.0,364.5 188.8,362.2 189.4,361.1 191.2,350.7 191.0,349.0ZM144.0,345.5 144.0,345.5ZM145.8,347.2 145.8,347.2ZM147.5,349.0 147.5,349.0ZM149.3,350.7 149.3,350.7ZM199.5,399.1 206.7,399.1 206.7,406.0 197.1,406.0Z" fill="#07f550" fill-rule="evenodd"/>
<path d="M106.3,267.7 135.0,267.7 146.6,267.7 146.6,278.1 145.8,278.8 135.0,277.9 124.2,271.2 120.7,274.6ZM86.6,285.0 92.0,284.4 100.7,290.2 102.7,290.8 106.3,290.8 109.2,295.4 109.5,297.1 108.1,298.8 106.3,298.8 102.7,304.4 100.9,305.0 92.0,303.3 81.2,298.2 79.4,297.6 77.6,298.1 74.1,295.4 77.6,291.9 81.2,286.3 83.0,285.4ZM145.8,291.9 149.3,290.8 151.1,295.9 151.3,297.1 151.1,297.4 149.3,298.1ZM200.7,310.9 206.7,310.0 206.7,346.9 193.8,336.9 192.4,328.6 187.6,323.0 192.4,318.4 194.8,312.6 195.9,311.7ZM108.8,312.6 109.9,311.7 120.7,311.7 132.4,323.0 133.9,335.1 133.2,336.1 129.3,336.9 126.0,340.7 125.5,342.0 126.4,350.7 124.2,354.1 129.1,364.5 131.1,374.9 124.8,381.8 124.2,383.5 122.3,392.2 122.7,393.9 120.7,397.7 118.9,402.9 118.6,404.3 119.1,406.0 92.0,406.0 79.3,392.2 81.7,383.5 83.0,381.1 84.8,378.5 85.2,373.2 86.6,371.9 99.2,371.7 106.3,366.2 108.1,367.1 108.9,366.2 107.8,364.5 107.8,352.4 108.1,352.0 111.1,350.7 111.1,343.8 111.3,340.3 112.1,336.9 112.1,329.9 111.7,328.1 107.3,323.0ZM109.9,368.0 109.9,368.0ZM63.3,319.6 63.3,319.1 69.0,323.0 66.2,324.7 65.4,326.5 64.5,336.9 66.9,340.3 66.9,350.7 65.1,351.3 64.0,352.4 63.3,355.3ZM192.4,357.6 193.6,364.5 192.7,366.2 192.4,366.5 190.6,364.5 191.5,362.8ZM202.5,404.3 203.1,402.5 206.7,402.5 206.7,406.0 201.9,406.0Z" fill="#0cf530" fill-rule="evenodd"/>
<path d="M120.7,267.7 145.2,267.7 145.2,276.3 144.0,277.5 135.0,276.7ZM83.9,286.7 92.0,285.9 106.3,295.4 100.9,303.8 92.0,302.3 77.6,295.4 83.0,286.9ZM149.3,295.4 149.3,295.4ZM109.8,312.6 120.8,312.6 131.5,323.0 132.8,333.4 132.1,335.1 123.5,336.9 122.3,338.6 123.5,350.7 122.5,352.4 128.1,364.5 129.9,373.2 129.6,373.9 124.2,379.7 123.0,381.8 120.7,392.2 117.1,402.5 118.1,406.0 93.1,406.0 80.1,392.2 82.5,383.5 86.0,378.3 86.3,373.2 86.6,372.9 99.1,372.7 100.9,372.2 106.3,368.0 111.7,370.6 112.5,369.7 109.3,364.5 109.3,354.1 109.9,353.3 115.9,350.7 115.9,347.2 117.8,336.9 117.8,335.1 117.1,333.2 108.3,323.0ZM113.5,371.4 113.5,371.4ZM199.5,312.6 206.7,311.5 206.7,346.2 194.7,336.9 192.4,323.0 195.9,314.4 197.7,312.9ZM63.3,323.0 63.3,323.0ZM206.7,406.0 206.7,406.0 206.7,406.0Z" fill="#11f510" fill-rule="evenodd"/>
<path d="M122.6,267.7 143.9,267.7 143.9,274.6 142.2,276.1 135.0,275.5ZM84.3,288.4 84.8,288.1 92.0,287.4 104.1,295.4 99.7,302.3 99.1,302.5 92.0,301.2 79.8,295.4ZM110.5,314.4 111.7,313.4 120.7,313.4 130.7,323.0 132.0,333.4 131.4,334.1 120.7,336.3 109.3,323.0ZM198.3,314.4 206.7,313.0 206.7,345.4 195.7,336.9 193.6,324.7 197.7,314.7ZM120.7,350.7 127.1,364.5 128.6,371.4 127.8,373.3 122.5,379.0 121.9,380.1 120.7,385.3 118.9,388.7 118.4,390.4 118.7,392.2 115.8,400.8 117.1,406.0 94.3,406.0 92.1,404.3 80.9,392.2 83.5,383.5 87.1,378.3 87.3,374.9 88.4,373.9 100.9,373.6 101.9,373.2 106.3,369.7 115.3,374.0 116.0,373.2 110.8,364.5 110.8,355.9 111.7,354.7Z" fill="#27f600" fill-rule="evenodd"/>
<path d="M124.5,267.7 142.5,267.7 142.5,274.6 142.2,274.9 135.0,274.3ZM85.4,290.2 86.6,289.4 92.0,288.8 101.9,295.4 98.6,300.5 97.4,301.1 92.0,300.1 82.1,295.4ZM111.5,314.4 111.7,314.2 120.7,314.2 129.8,323.0 130.9,331.7 129.6,333.3 120.7,335.1 110.3,323.0ZM199.1,316.1 199.5,315.7 206.7,314.6 206.7,344.7 196.7,336.9 194.9,326.5 195.0,324.7 196.2,323.0ZM117.7,354.1 120.7,352.8 126.1,364.5 127.2,369.7 127.2,371.4 120.7,378.3 116.2,387.0 116.1,388.7 116.8,392.2 114.4,399.1 114.5,400.8 116.1,406.0 95.6,406.0 92.0,403.3 81.7,392.2 83.7,385.3 84.8,383.1 88.2,378.3 88.4,374.9 100.9,374.6 102.7,374.2 106.3,371.4 118.9,377.5 119.6,376.6 112.4,364.5 112.4,357.6 113.5,356.0Z" fill="#4cf900" fill-rule="evenodd"/>
<path d="M126.4,267.7 141.1,267.7 141.1,272.9 140.4,273.6 135.0,273.1ZM86.5,291.9 88.4,290.6 92.0,290.3 99.7,295.4 97.4,299.0 95.6,299.7 92.0,299.1 84.3,295.4ZM112.3,316.1 113.5,315.1 120.7,315.1 128.9,323.0 130.0,331.7 129.6,332.2 120.7,334.0 111.3,323.0ZM206.7,316.1 206.7,344.0 197.6,336.9 195.9,327.2 195.9,326.1 197.7,323.5 200.2,317.8 201.3,317.0ZM118.6,355.9 120.7,354.9 125.1,364.5 126.2,369.7 126.0,370.2 120.7,375.8 113.9,364.5 113.9,359.3 114.7,357.6ZM106.3,373.2 117.1,378.3 113.5,385.3 114.9,392.2 113.1,397.4 113.0,399.1 115.0,406.0 96.6,406.0 92.1,402.5 82.6,392.2 84.8,384.7 89.3,378.3 89.4,376.6 90.2,375.9 102.7,375.5 104.5,374.6Z" fill="#72fb00" fill-rule="evenodd"/>
<path d="M128.3,267.7 139.8,267.7 139.8,271.2 138.6,272.2 135.0,271.9ZM90.2,291.9 92.0,291.7 97.5,295.4 95.6,298.4 93.8,298.4 92.0,298.0 86.5,295.4 88.4,292.3ZM113.2,316.1 113.5,315.9 120.7,315.9 128.0,323.0 128.9,329.9 127.8,331.4 120.7,332.8 112.3,323.0ZM205.5,317.8 206.7,317.6 206.7,343.2 198.6,336.9 197.1,328.2 197.7,326.3 200.0,323.0 201.4,319.6 203.1,318.2ZM119.5,357.6 120.7,357.1 124.1,364.5 124.9,368.0 124.1,369.7 120.7,373.3 115.4,364.5 115.4,361.1 115.6,359.3ZM106.3,374.9 113.5,378.3 111.7,381.8 111.2,383.5 113.0,392.2 111.8,395.6 111.4,397.4 114.0,406.0 97.7,406.0 92.0,401.5 83.4,392.2 85.5,385.3 90.2,378.6 92.0,376.9 104.5,376.3Z" fill="#97fe00" fill-rule="evenodd"/>
<path d="M130.2,267.7 138.4,267.7 138.4,269.4 136.8,270.9 135.0,270.7ZM89.8,293.6 90.2,293.4 92.0,293.2 95.3,295.4 94.2,297.1 93.8,297.3 92.0,297.0 88.7,295.4ZM114.0,317.8 115.3,316.7 120.7,316.7 127.2,323.0 128.0,329.9 127.8,330.2 120.7,331.7 113.2,323.0ZM204.3,319.6 206.7,319.2 206.7,342.5 199.5,336.9 198.3,329.9 198.3,328.2 201.9,323.0 203.1,320.1ZM120.4,359.3 120.7,359.2 123.1,364.5 123.5,366.2 123.3,368.0 120.7,370.8 116.9,364.5 116.9,361.1 117.1,360.8ZM106.3,376.6 109.9,378.3 109.0,380.1 108.9,381.8 111.1,392.2 109.9,395.6 113.0,406.0 98.9,406.0 92.2,400.8 84.2,392.2 85.7,387.0 86.6,385.2 92.0,377.8 104.5,377.4Z" fill="#b8ff00" fill-rule="evenodd"/>
<path d="M132.1,267.7 137.0,267.7 137.0,269.4 136.8,269.7 134.9,269.4ZM90.9,295.4 92.0,294.6 93.1,295.4 92.0,295.9ZM115.0,317.8 115.3,317.6 120.7,317.6 126.3,323.0 127.0,328.2 126.0,329.4 120.7,330.5 114.2,323.0ZM204.5,321.3 204.9,321.0 206.7,320.7 206.7,341.7 200.5,336.9 199.3,329.9 199.5,329.2 203.8,323.0ZM118.4,362.8 118.9,362.1 120.7,361.3 122.1,364.5 122.5,366.2 120.7,368.3 118.4,364.5ZM106.3,378.3 109.2,392.2 108.6,393.9 112.0,406.0 100.0,406.0 92.0,399.8 85.0,392.2 86.6,386.7 92.0,379.1 95.6,381.8Z" fill="#d4ff00" fill-rule="evenodd"/>
<path d="M134.0,267.7 135.7,267.7 135.0,268.3ZM115.7,319.6 117.1,318.4 120.7,318.4 125.4,323.0 126.1,328.2 120.7,329.4 115.3,323.1ZM205.7,323.0 206.7,322.3 206.7,341.0 201.4,336.9 200.5,331.7 201.0,329.9ZM119.9,364.5 120.7,363.4 121.2,364.5 120.7,365.8ZM91.2,381.8 92.0,380.6 102.7,388.7 106.3,387.6 107.3,392.2 107.3,393.9 110.9,406.0 101.2,406.0 92.0,398.9 85.8,392.2 87.5,387.0Z" fill="#f1ff00" fill-rule="evenodd"/>
<path d="M116.7,319.6 117.1,319.2 120.7,319.2 124.6,323.0 125.0,326.5 124.2,327.5 120.7,328.2 116.2,323.0ZM206.5,324.7 206.7,324.4 206.7,340.2 202.4,336.9 201.7,331.7ZM91.0,383.5 92.0,382.2 105.3,392.2 106.3,393.9 109.9,406.0 102.3,406.0 92.0,398.0 86.7,392.2 87.6,388.7Z" fill="#ffec00" fill-rule="evenodd"/>
<path d="M117.4,321.3 118.9,320.1 120.7,320.1 123.7,323.0 123.9,324.7 123.5,326.5 120.7,327.1 117.2,323.0ZM206.0,328.2 206.7,327.2 206.7,339.5 203.4,336.9 202.8,333.4 203.1,332.4ZM90.9,385.3 92.0,383.7 103.2,392.2 106.3,397.4 108.9,406.0 103.5,406.0 92.0,397.1 87.5,392.2 88.4,388.9Z" fill="#ffc600" fill-rule="evenodd"/>
<path d="M118.4,321.3 118.9,320.9 120.7,320.9 122.8,323.0 123.0,324.7 122.5,325.5 120.7,325.9 118.2,323.0ZM206.7,329.9 206.7,338.7 204.3,336.9 204.0,335.1 204.3,333.4ZM92.0,385.3 100.9,392.0 106.3,400.8 107.9,406.0 104.6,406.0 91.5,395.6 88.3,392.2 88.8,390.4 89.5,388.7Z" fill="#ff9f00" fill-rule="evenodd"/>
<path d="M119.2,323.0 120.7,321.8 122.0,323.0 120.7,324.7ZM206.2,333.4 206.7,332.7 206.7,338.0 205.3,336.9 205.0,335.1ZM91.8,387.0 92.0,386.8 99.2,392.2 106.3,404.3 106.8,406.0 105.7,406.0 92.0,395.3 89.1,392.2 89.6,390.4Z" fill="#ff7c00" fill-rule="evenodd"/>
<path d="M120.2,323.0 120.7,322.6 121.1,323.0 120.7,323.6ZM206.2,336.9 206.7,335.5 206.7,337.2ZM91.7,388.7 92.0,388.3 97.1,392.2 102.2,400.8 100.9,401.4 91.5,393.9 89.9,392.2 90.5,390.4ZM102.4,402.5 102.7,401.7 103.2,402.5 102.7,402.8Z" fill="#ff5b00" fill-rule="evenodd"/>
<path d="M91.6,390.4 92.0,389.9 95.1,392.2 97.1,395.6 95.6,396.3 92.0,393.5 90.8,392.2ZM96.9,397.4 97.4,396.1 98.1,397.4 97.4,397.7ZM99.1,399.1 99.2,399.1Z" fill="#ff3b00" fill-rule="evenodd"/>
<path d="M91.6,392.2 92.0,391.4 93.0,392.2 92.0,392.6ZM93.6,393.9 93.8,393.5 94.0,393.9Z" fill="#ff1a00" fill-rule="evenodd"/>
<path d="M163.7,376.6 161.9,378.3 163.7,380.5 165.5,380.7 166.3,380.1 166.3,378.3Z" fill="none" stroke="#444" stroke-opacity="0.38" stroke-width="0.6" stroke-dasharray="1.6,1.2"/>
<path d="M185.2,274.6 178.0,277.6 174.4,277.1 163.7,276.9 161.9,278.1 160.8,279.8 159.9,291.9 161.1,295.4 163.7,309.2 159.2,317.8 159.1,319.6 159.6,323.0 163.7,326.1 170.8,330.7 171.6,329.9 166.5,323.0 163.7,309.2 172.6,303.7 178.0,303.7 181.6,299.5 183.4,298.8 192.4,296.9 194.2,295.4 198.5,286.7 199.5,281.5 192.4,275.2ZM63.3,285.0 66.9,281.5 68.7,267.7M133.2,289.7 131.4,290.3 129.4,291.9 127.0,295.4 135.0,301.1 142.2,302.9 142.5,302.3 135.0,289.1ZM172.6,331.4 172.3,331.7 172.6,331.9 172.8,331.7ZM178.0,343.8 176.2,349.0 176.6,350.7 178.0,353.0 178.5,352.4 179.2,350.7ZM77.6,361.1 75.8,361.6 74.7,362.8 74.3,364.5 75.8,376.6 75.6,378.3 77.6,380.5 78.5,378.3 79.2,366.2 79.4,366.0 92.0,366.0 93.8,365.7 95.3,364.5 92.0,360.7 88.4,361.1ZM135.0,364.5 135.0,364.5ZM163.7,369.7 156.5,370.1 155.2,371.4 154.7,378.3 163.7,389.0 176.2,390.8 176.7,390.4 176.7,378.3ZM206.7,378.3 206.7,378.3ZM157.2,406.0 149.3,394.1 145.8,391.8 135.0,386.6 133.2,388.7 132.2,390.4 131.8,392.2 135.0,406.0" fill="none" stroke="#444" stroke-opacity="0.38" stroke-width="0.6" stroke-dasharray="1.6,1.2"/>
<path d="M149.3,267.7 149.3,279.8 147.5,281.4 135.0,280.3 131.4,278.1 127.8,281.5 122.5,283.5 120.7,286.1 108.1,282.1 107.4,283.3 114.9,295.4 116.7,304.0 115.3,305.7 106.3,305.7 105.2,307.5 104.5,307.8 92.0,305.5 84.8,302.0 82.4,302.3 77.6,303.7 66.9,295.4 77.6,285.0 78.7,283.3 79.4,282.8 93.8,281.5 92.0,281.5 83.8,267.7M144.0,283.3 149.3,281.5 154.4,295.4 155.4,300.5 154.7,301.6 149.3,303.7 144.0,293.9 138.6,285.0ZM63.3,311.2 72.3,317.1 77.6,320.3 92.0,323.0 79.4,324.7 77.6,324.7 70.5,329.1 69.9,329.9 69.3,336.9 77.6,349.0 92.0,350.7 77.6,351.8 68.7,354.7 67.6,355.9 65.5,364.5 65.7,368.0 64.7,378.3 72.8,387.0 72.3,388.7 63.3,383.0M206.7,348.4 195.9,340.0 194.7,340.3 197.1,350.7 196.7,354.1 198.3,364.5 197.7,369.9 192.4,374.4 183.4,364.5 187.3,359.3 188.8,350.7 188.2,347.2 188.3,345.5 190.6,336.9 178.0,323.0 192.4,309.2 203.1,305.7 206.7,298.8M72.3,388.7 74.1,388.3 74.4,388.7 74.1,389.9ZM75.0,390.4 75.8,390.3 76.0,390.4 75.8,391.0ZM86.2,406.0 77.6,392.2 80.6,381.8 82.8,378.3 83.2,371.4 84.8,369.9 92.0,369.9 97.5,369.7 104.1,364.5 92.0,350.7 102.7,347.7 103.1,347.2 103.1,336.9 92.0,323.0 102.7,320.1 103.5,319.6 106.3,316.1 107.1,310.9 108.1,310.0 120.7,310.0 134.1,323.0 135.0,329.9 149.3,333.4 156.5,336.9 163.7,343.8 165.1,350.7 167.3,354.1 149.3,359.9 142.2,350.7 135.0,343.8 132.1,347.2 132.0,349.0 132.1,350.7 127.8,357.6 131.0,364.5 133.6,376.6 133.2,377.7 128.1,383.5 127.0,385.3 125.4,392.2 126.6,397.4 126.0,399.4 122.3,406.0M192.4,406.0 195.9,395.6 206.7,395.6" fill="none" stroke="#444" stroke-opacity="0.38" stroke-width="0.6" stroke-dasharray="1.6,1.2"/>
<path d="M143.9,267.7 143.9,274.6 142.2,276.1 135.0,275.5 122.6,267.7M84.3,288.4 84.8,288.1 92.0,287.4 104.1,295.4 99.7,302.3 99.1,302.5 92.0,301.2 79.8,295.4ZM110.5,314.4 111.7,313.4 120.7,313.4 130.7,323.0 132.0,333.4 131.4,334.1 120.7,336.3 109.3,323.0ZM206.7,345.4 195.7,336.9 193.6,324.7 197.7,314.7 198.3,314.4 206.7,313.0M117.1,374.9 117.1,374.9ZM94.3,406.0 92.1,404.3 80.9,392.2 83.5,383.5 87.1,378.3 87.3,374.9 88.4,373.9 100.9,373.6 101.9,373.2 106.3,369.7 115.3,374.0 116.0,373.2 110.8,364.5 110.8,355.9 111.7,354.7 120.7,350.7 127.1,364.5 128.6,371.4 127.8,373.3 122.5,379.0 121.9,380.1 120.7,385.3 118.9,388.7 118.4,390.4 118.7,392.2 115.8,400.8 117.1,406.0" fill="none" stroke="#444" stroke-opacity="0.38" stroke-width="0.6" stroke-dasharray="1.6,1.2"/>
<path d="M138.4,267.7 138.4,269.4 136.8,270.9 135.0,270.7 130.2,267.7M89.8,293.6 90.2,293.4 92.0,293.2 95.3,295.4 94.2,297.1 93.8,297.3 92.0,297.0 88.7,295.4ZM114.0,317.8 115.3,316.7 120.7,316.7 127.2,323.0 128.0,329.9 127.8,330.2 120.7,331.7 113.2,323.0ZM206.7,342.5 199.5,336.9 198.3,329.9 198.3,328.2 201.9,323.0 203.1,320.1 204.9,319.5 206.7,319.2M120.4,359.3 120.7,359.2 123.1,364.5 123.5,366.2 123.3,368.0 120.7,370.8 116.9,364.5 116.9,361.1 117.1,360.8ZM98.9,406.0 92.2,400.8 84.2,392.2 85.7,387.0 86.6,385.2 92.0,377.8 104.5,377.4 106.3,376.6 109.9,378.3 109.0,380.1 108.9,381.8 111.1,392.2 109.9,395.6 113.0,406.0" fill="none" stroke="#444" stroke-opacity="0.38" stroke-width="0.6" stroke-dasharray="1.6,1.2"/>
<path d="M117.4,321.3 118.9,320.1 120.7,320.1 123.7,323.0 123.9,324.7 123.5,326.5 120.7,327.1 117.2,323.0ZM206.7,339.5 203.4,336.9 202.8,333.4 203.1,332.4 206.7,327.2M103.5,406.0 92.0,397.1 87.5,392.2 88.4,388.9 92.0,383.7 103.2,392.2 106.3,397.4 108.9,406.0" fill="none" stroke="#444" stroke-opacity="0.38" stroke-width="0.6" stroke-dasharray="1.6,1.2"/>
<path d="M91.6,390.4 92.0,389.9 95.1,392.2 97.1,395.6 95.6,396.3 92.0,393.5 90.8,392.2ZM96.9,397.4 97.4,396.1 98.1,397.4 97.4,397.7ZM99.1,399.1 99.2,399.1Z" fill="none" stroke="#444" stroke-opacity="0.38" stroke-width="0.6" stroke-dasharray="1.6,1.2"/>
<rect x="63.3" y="267.7" width="143.39999999999998" height="138.3" fill="none" stroke="#000" stroke-width="1.3"/>
<line x1="63.30" y1="406.0" x2="63.30" y2="409.0" stroke="#000" stroke-width="1.2"/>
<text x="63.30" y="417.10" font-size="8.6" text-anchor="middle" font-family="'Liberation Sans', sans-serif" font-weight="bold">-15</text>
<line x1="60.3" y1="406.00" x2="63.3" y2="406.00" stroke="#000" stroke-width="1.2"/>
<text x="58.8" y="409.10" font-size="8.6" text-anchor="end" font-family="'Liberation Sans', sans-serif" font-weight="bold">-15</text>
<line x1="75.25" y1="406.0" x2="75.25" y2="407.8" stroke="#000" stroke-width="1"/>
<line x1="61.5" y1="394.48" x2="63.3" y2="394.48" stroke="#000" stroke-width="1"/>
<line x1="87.20" y1="406.0" x2="87.20" y2="409.0" stroke="#000" stroke-width="1.2"/>
<text x="87.20" y="417.10" font-size="8.6" text-anchor="middle" font-family="'Liberation Sans', sans-serif" font-weight="bold">-10</text>
<line x1="60.3" y1="382.95" x2="63.3" y2="382.95" stroke="#000" stroke-width="1.2"/>
<text x="58.8" y="386.05" font-size="8.6" text-anchor="end" font-family="'Liberation Sans', sans-serif" font-weight="bold">-10</text>
<line x1="99.15" y1="406.0" x2="99.15" y2="407.8" stroke="#000" stroke-width="1"/>
<line x1="61.5" y1="371.43" x2="63.3" y2="371.43" stroke="#000" stroke-width="1"/>
<line x1="111.10" y1="406.0" x2="111.10" y2="409.0" stroke="#000" stroke-width="1.2"/>
<text x="111.10" y="417.10" font-size="8.6" text-anchor="middle" font-family="'Liberation Sans', sans-serif" font-weight="bold">-5</text>
<line x1="60.3" y1="359.90" x2="63.3" y2="359.90" stroke="#000" stroke-width="1.2"/>
<text x="58.8" y="363.00" font-size="8.6" text-anchor="end" font-family="'Liberation Sans', sans-serif" font-weight="bold">-5</text>
<line x1="123.05" y1="406.0" x2="123.05" y2="407.8" stroke="#000" stroke-width="1"/>
<line x1="61.5" y1="348.38" x2="63.3" y2="348.38" stroke="#000" stroke-width="1"/>
<line x1="135.00" y1="406.0" x2="135.00" y2="409.0" stroke="#000" stroke-width="1.2"/>
<text x="135.00" y="417.10" font-size="8.6" text-anchor="middle" font-family="'Liberation Sans', sans-serif" font-weight="bold">0</text>
<line x1="60.3" y1="336.85" x2="63.3" y2="336.85" stroke="#000" stroke-width="1.2"/>
<text x="58.8" y="339.95" font-size="8.6" text-anchor="end" font-family="'Liberation Sans', sans-serif" font-weight="bold">0</text>
<line x1="146.95" y1="406.0" x2="146.95" y2="407.8" stroke="#000" stroke-width="1"/>
<line x1="61.5" y1="325.33" x2="63.3" y2="325.33" stroke="#000" stroke-width="1"/>
<line x1="158.90" y1="406.0" x2="158.90" y2="409.0" stroke="#000" stroke-width="1.2"/>
<text x="158.90" y="417.10" font-size="8.6" text-anchor="middle" font-family="'Liberation Sans', sans-serif" font-weight="bold">5</text>
<line x1="60.3" y1="313.80" x2="63.3" y2="313.80" stroke="#000" stroke-width="1.2"/>
<text x="58.8" y="316.90" font-size="8.6" text-anchor="end" font-family="'Liberation Sans', sans-serif" font-weight="bold">5</text>
<line x1="170.85" y1="406.0" x2="170.85" y2="407.8" stroke="#000" stroke-width="1"/>
<line x1="61.5" y1="302.28" x2="63.3" y2="302.28" stroke="#000" stroke-width="1"/>
<line x1="182.80" y1="406.0" x2="182.80" y2="409.0" stroke="#000" stroke-width="1.2"/>
<text x="182.80" y="417.10" font-size="8.6" text-anchor="middle" font-family="'Liberation Sans', sans-serif" font-weight="bold">10</text>
<line x1="60.3" y1="290.75" x2="63.3" y2="290.75" stroke="#000" stroke-width="1.2"/>
<text x="58.8" y="293.85" font-size="8.6" text-anchor="end" font-family="'Liberation Sans', sans-serif" font-weight="bold">10</text>
<line x1="194.75" y1="406.0" x2="194.75" y2="407.8" stroke="#000" stroke-width="1"/>
<line x1="61.5" y1="279.23" x2="63.3" y2="279.23" stroke="#000" stroke-width="1"/>
<line x1="206.70" y1="406.0" x2="206.70" y2="409.0" stroke="#000" stroke-width="1.2"/>
<text x="206.70" y="417.10" font-size="8.6" text-anchor="middle" font-family="'Liberation Sans', sans-serif" font-weight="bold">15</text>
<line x1="60.3" y1="267.70" x2="63.3" y2="267.70" stroke="#000" stroke-width="1.2"/>
<text x="58.8" y="270.80" font-size="8.6" text-anchor="end" font-family="'Liberation Sans', sans-serif" font-weight="bold">15</text>
<defs><linearGradient id="cb2" x1="0" y1="0" x2="0" y2="1"><stop offset="0.0000" stop-color="#ff0a00"/><stop offset="0.0167" stop-color="#ff1a00"/><stop offset="0.0333" stop-color="#ff2b00"/><stop offset="0.0500" stop-color="#ff3b00"/><stop offset="0.0667" stop-color="#ff4b00"/><stop offset="0.0833" stop-color="#ff5b00"/><stop offset="0.1000" stop-color="#ff6c00"/><stop offset="0.1167" stop-color="#ff7c00"/><stop offset="0.1333" stop-color="#ff8c00"/><stop offset="0.1500" stop-color="#ff9f00"/><stop offset="0.1667" stop-color="#ffb200"/><stop offset="0.1833" stop-color="#ffc600"/><stop offset="0.2000" stop-color="#ffd900"/><stop offset="0.2167" stop-color="#ffec00"/><stop offset="0.2333" stop-color="#ffff00"/><stop offset="0.2500" stop-color="#f1ff00"/><stop offset="0.2667" stop-color="#e3ff00"/><stop offset="0.2833" stop-color="#d5ff00"/><stop offset="0.3000" stop-color="#c6ff00"/><stop offset="0.3167" stop-color="#b8ff00"/><stop offset="0.3333" stop-color="#aaff00"/><stop offset="0.3500" stop-color="#97fe00"/><stop offset="0.3667" stop-color="#85fc00"/><stop offset="0.3833" stop-color="#72fb00"/><stop offset="0.4000" stop-color="#5ffa00"/><stop offset="0.4167" stop-color="#4cf900"/><stop offset="0.4333" stop-color="#39f800"/><stop offset="0.4500" stop-color="#27f600"/><stop offset="0.4667" stop-color="#14f500"/><stop offset="0.4833" stop-color="#11f510"/><stop offset="0.5000" stop-color="#0ff520"/><stop offset="0.5167" stop-color="#0cf530"/><stop offset="0.5333" stop-color="#0af540"/><stop offset="0.5500" stop-color="#07f550"/><stop offset="0.5667" stop-color="#05f560"/><stop offset="0.5833" stop-color="#03f570"/><stop offset="0.6000" stop-color="#00f580"/><stop offset="0.6167" stop-color="#00f690"/><stop offset="0.6333" stop-color="#00f8a0"/><stop offset="0.6500" stop-color="#00f9b0"/><stop offset="0.6667" stop-color="#00fabf"/><stop offset="0.6833" stop-color="#00fbcf"/><stop offset="0.7000" stop-color="#00fcdf"/><stop offset="0.7167" stop-color="#00feef"/><stop offset="0.7333" stop-color="#00ffff"/><stop offset="0.7500" stop-color="#00edff"/><stop offset="0.7667" stop-color="#00dbff"/><stop offset="0.7833" stop-color="#00c9ff"/><stop offset="0.8000" stop-color="#00b6ff"/><stop offset="0.8167" stop-color="#00a4ff"/><stop offset="0.8333" stop-color="#0092ff"/><stop offset="0.8500" stop-color="#0080ff"/><stop offset="0.8667" stop-color="#006eff"/><stop offset="0.8833" stop-color="#0060fe"/><stop offset="0.9000" stop-color="#0052fc"/><stop offset="0.9167" stop-color="#0045fb"/><stop offset="0.9333" stop-color="#0037fa"/><stop offset="0.9500" stop-color="#0029f9"/><stop offset="0.9667" stop-color="#001bf8"/><stop offset="0.9833" stop-color="#000ef6"/><stop offset="1.0000" stop-color="#0000f5"/></linearGradient></defs>
<rect x="214.1" y="272.1" width="23.10" height="130.90" fill="url(#cb2)" stroke="#000" stroke-width="1.2"/>
<line x1="237.2" y1="403.00" x2="239.7" y2="403.00" stroke="#000" stroke-width="1.2"/>
<text x="243.6" y="406.40" font-size="8.6" font-family="'Liberation Sans', sans-serif" font-weight="bold">0.01</text>
<line x1="237.2" y1="385.55" x2="239.7" y2="385.55" stroke="#000" stroke-width="1.2"/>
<text x="243.6" y="388.95" font-size="8.6" font-family="'Liberation Sans', sans-serif" font-weight="bold">0.09</text>
<line x1="237.2" y1="368.09" x2="239.7" y2="368.09" stroke="#000" stroke-width="1.2"/>
<text x="243.6" y="371.49" font-size="8.6" font-family="'Liberation Sans', sans-serif" font-weight="bold">0.17</text>
<line x1="237.2" y1="350.64" x2="239.7" y2="350.64" stroke="#000" stroke-width="1.2"/>
<text x="243.6" y="354.04" font-size="8.6" font-family="'Liberation Sans', sans-serif" font-weight="bold">0.25</text>
<line x1="237.2" y1="333.19" x2="239.7" y2="333.19" stroke="#000" stroke-width="1.2"/>
<text x="243.6" y="336.59" font-size="8.6" font-family="'Liberation Sans', sans-serif" font-weight="bold">0.33</text>
<line x1="237.2" y1="315.73" x2="239.7" y2="315.73" stroke="#000" stroke-width="1.2"/>
<text x="243.6" y="319.13" font-size="8.6" font-family="'Liberation Sans', sans-serif" font-weight="bold">0.41</text>
<line x1="237.2" y1="298.28" x2="239.7" y2="298.28" stroke="#000" stroke-width="1.2"/>
<text x="243.6" y="301.68" font-size="8.6" font-family="'Liberation Sans', sans-serif" font-weight="bold">0.49</text>
<line x1="237.2" y1="280.83" x2="239.7" y2="280.83" stroke="#000" stroke-width="1.2"/>
<text x="243.6" y="284.23" font-size="8.6" font-family="'Liberation Sans', sans-serif" font-weight="bold">0.57</text>
<text x="214.5" y="263.2" font-size="16.5" font-family="'Liberation Sans', sans-serif" font-weight="bold">I</text><text x="218.9" y="266.9" font-size="10.3" font-family="'Liberation Sans', sans-serif" font-weight="bold">(D/G)</text>
<text x="5.8" y="255.7" font-size="16" font-family="'Liberation Sans', sans-serif" font-weight="bold">(c)</text>
<text x="135.1" y="435.3" font-size="11.6" text-anchor="middle" font-family="'Liberation Sans', sans-serif" font-weight="bold">x (µm)</text>
<text transform="translate(41.1,336.8) rotate(-90)" font-size="11.5" text-anchor="middle" font-family="'Liberation Sans', sans-serif" font-weight="bold">y (µm)</text>
<rect x="340.2" y="267.5" width="144.0" height="138.10000000000002" fill="#0000f5"/>
<path d="M340.2,267.5 369.0,267.5 397.8,267.5 426.6,267.5 455.4,267.5 484.2,267.5 484.2,295.1 484.2,322.7 484.2,350.4 484.2,378.0 484.2,405.6 455.4,405.6 426.6,405.6 397.8,405.6 369.0,405.6 340.2,405.6 340.2,378.0 340.2,350.4 340.2,322.7 340.2,295.1Z" fill="#000ef6" fill-rule="evenodd"/>
<path d="M340.2,267.5 369.0,267.5 397.8,267.5 426.6,267.5 455.4,267.5 484.2,267.5 484.2,295.1 484.2,322.7 484.2,350.4 484.2,378.0 484.2,405.6 455.4,405.6 426.6,405.6 397.8,405.6 369.0,405.6 340.2,405.6 340.2,378.0 340.2,350.4 340.2,322.7 340.2,295.1Z" fill="#0029f9" fill-rule="evenodd"/>
<path d="M340.2,267.5 369.0,267.5 397.8,267.5 426.6,267.5 455.4,267.5 484.2,267.5 484.2,295.1 484.2,322.7 484.2,350.4 484.2,378.0 484.2,405.6 455.4,405.6 426.6,405.6 397.8,405.6 369.0,405.6 340.2,405.6 340.2,378.0 340.2,350.4 340.2,322.7 340.2,295.1Z" fill="#0045fb" fill-rule="evenodd"/>
<path d="M340.2,267.5 369.0,267.5 397.8,267.5 426.6,267.5 455.4,267.5 484.2,267.5 484.2,295.1 484.2,322.7 484.2,350.4 484.2,378.0 484.2,405.6 455.4,405.6 426.6,405.6 397.8,405.6 369.0,405.6 340.2,405.6 340.2,378.0 340.2,350.4 340.2,322.7 340.2,295.1Z" fill="#0060fe" fill-rule="evenodd"/>
<path d="M340.2,267.5 369.0,267.5 382.1,267.5 383.4,271.4 385.2,270.7 387.4,269.2 389.2,267.5 417.6,267.5 446.4,267.5 484.2,267.5 484.2,295.1 484.2,322.7 484.2,350.4 484.2,378.0 484.2,405.6 455.4,405.6 426.6,405.6 399.9,405.6 397.8,404.4 396.0,405.0 395.4,405.6 367.2,405.6 340.2,405.6 340.2,378.0 340.2,350.4 340.2,322.7 340.2,295.1ZM426.6,390.9 425.0,391.8 426.6,393.2 427.8,391.8ZM453.6,279.3 452.8,279.6 451.3,281.3 455.4,284.8 457.3,283.0 457.8,281.3 455.4,279.9ZM464.4,344.3 464.0,345.2 464.4,345.4 464.8,345.2ZM455.4,334.7 453.6,335.2 452.2,336.6 455.4,340.0 462.6,344.3 464.0,343.5 461.2,336.6Z" fill="#0080ff" fill-rule="evenodd"/>
<path d="M340.2,267.5 369.0,267.5 380.8,267.5 383.4,275.4 388.8,273.2 394.9,267.5 423.0,267.5 451.8,267.5 484.2,267.5 484.2,295.1 484.2,322.7 484.2,350.4 484.2,378.0 484.2,405.6 455.4,405.6 426.6,405.6 404.0,405.6 397.8,402.1 394.2,402.1 390.6,405.6 361.8,405.6 340.2,405.6 340.2,378.0 340.2,350.4 340.2,322.7 340.2,295.1ZM423.0,387.9 422.2,388.3 421.8,391.8 426.6,396.2 428.4,395.2 429.8,393.5 430.2,391.8 426.6,389.1ZM451.8,277.3 450.3,277.9 447.2,281.3 455.4,288.2 459.3,284.8 460.2,281.3 455.4,278.5ZM455.4,332.9 453.6,333.2 451.8,333.9 449.0,336.6 455.4,343.5 466.9,350.4 469.8,353.1 471.6,353.1 473.4,352.7 477.0,350.4 469.8,343.5 466.9,336.6ZM453.6,389.8 453.3,390.1 454.0,391.8 455.4,393.5 456.5,391.8 455.4,390.6Z" fill="#00a4ff" fill-rule="evenodd"/>
<path d="M340.2,267.5 379.5,267.5 383.4,279.3 392.4,275.4 398.7,269.2 399.2,267.5 426.6,267.5 455.4,267.5 484.2,267.5 484.2,295.1 484.2,334.6 469.8,334.6 468.0,335.1 455.4,331.0 451.8,331.7 450.0,332.5 445.8,336.6 455.4,346.9 460.8,350.1 469.8,358.6 477.0,358.6 478.8,358.4 484.2,355.0 484.2,381.4 484.2,405.6 455.4,405.6 426.6,405.6 408.1,405.6 397.8,399.8 392.4,399.8 391.2,400.4 385.8,405.6 361.8,405.6 354.6,402.8 351.0,405.6 340.2,405.6 340.2,378.0 340.2,350.4 340.2,322.7 340.2,295.1ZM352.8,363.3 352.5,364.2 354.6,365.1 361.8,364.2 354.6,362.8ZM419.4,384.9 418.6,391.8 426.6,399.1 430.4,397.0 431.7,395.2 432.6,391.8 426.6,387.3ZM448.2,275.6 443.1,281.3 455.4,291.7 460.8,287.1 461.2,286.5 462.6,281.3 455.4,277.2 450.0,275.4ZM450.0,385.9 449.2,386.6 451.1,391.8 455.4,397.0 458.3,395.2 458.7,393.5 458.7,391.8 455.4,388.2Z" fill="#00c9ff" fill-rule="evenodd"/>
<path d="M340.2,267.5 378.2,267.5 381.6,277.9 382.5,281.3 387.0,284.9 388.2,284.8 388.2,281.3 394.2,278.8 396.0,277.5 401.4,271.6 401.8,271.0 402.1,267.5 430.2,267.5 459.0,267.5 484.2,267.5 484.2,295.1 484.2,330.6 469.8,330.6 466.2,332.1 464.4,332.1 455.4,329.2 450.0,330.2 448.0,331.4 442.6,336.6 455.4,350.4 469.8,364.2 484.2,364.2 484.2,391.8 484.2,405.6 455.4,405.6 426.6,405.6 412.2,405.6 397.8,397.5 390.6,397.5 388.8,398.1 383.4,403.3 379.8,402.1 369.0,402.1 363.6,400.8 354.6,397.3 343.8,405.6 340.2,405.6 340.2,378.0 340.2,350.4 340.2,322.7 340.2,295.1ZM351.0,359.7 349.5,360.7 348.4,364.2 354.6,367.0 358.2,366.8 369.0,365.2 370.8,364.6 371.1,364.2 369.0,362.4 367.2,362.4 354.6,360.0ZM381.6,333.9 381.3,334.8 382.5,336.6 383.4,339.6 387.0,339.1 397.8,336.6ZM417.6,382.5 416.4,383.2 415.4,391.8 426.6,402.0 432.5,398.7 433.7,397.0 435.0,391.8 426.6,385.6ZM426.6,336.6 426.6,336.6ZM446.4,273.0 441.0,279.0 439.2,279.6 441.0,295.1 455.4,295.1 462.6,289.1 463.2,288.2 465.0,281.3 456.0,276.1 448.2,273.4ZM444.6,381.3 444.4,381.4 448.2,391.8 455.4,400.4 460.9,397.0 460.9,391.8 455.4,385.8Z" fill="#00edff" fill-rule="evenodd"/>
<path d="M345.0,267.5 376.9,267.5 380.3,277.9 380.7,281.3 383.4,283.0 396.0,293.6 397.8,293.4 397.8,281.3 403.8,274.4 404.5,272.7 405.0,267.5 433.8,267.5 462.6,267.5 484.2,267.5 484.2,295.1 484.2,326.7 469.8,326.7 462.6,329.6 455.4,327.3 448.2,328.7 446.4,329.8 441.0,335.0 439.2,335.4 426.6,334.6 423.0,333.6 412.2,336.6 426.6,339.8 427.0,338.3 428.4,337.2 441.0,336.9 454.7,350.4 455.4,354.3 465.7,364.2 469.8,366.3 473.1,367.6 475.2,367.9 484.2,367.9 484.2,405.6 455.4,405.6 423.7,405.6 419.4,400.4 421.2,400.0 426.6,404.9 434.6,400.4 435.6,398.7 437.4,391.8 426.6,383.8 414.0,379.5 413.6,379.7 412.2,391.8 406.8,399.6 405.0,399.3 397.8,395.2 387.0,395.2 383.4,398.7 372.6,395.2 369.0,395.2 354.6,391.8 340.2,402.8 340.2,376.3 340.2,339.3 342.0,339.0 342.5,338.3 342.3,336.6 340.2,334.2 340.2,297.1 342.0,297.3 342.7,296.8 343.1,295.1 340.2,281.3 352.8,281.3 353.4,279.6ZM378.0,331.1 378.0,331.5 381.6,336.6 383.4,342.7 390.6,341.7 397.8,340.0 401.4,340.4 403.2,340.0 412.2,336.6 397.8,334.8 394.2,333.4 381.6,331.4ZM397.8,295.1 397.2,307.2 396.0,308.5 393.0,308.9 397.8,309.9 399.6,310.7 400.2,308.9ZM444.6,270.8 444.1,271.0 441.0,274.4 435.6,276.1 437.4,291.7 436.9,295.1 441.0,299.1 442.8,297.6 444.6,297.2 455.4,297.2 459.5,295.1 464.4,291.0 465.1,289.9 467.4,281.3 455.4,274.4ZM441.0,377.3 440.0,378.0 441.0,380.0 445.3,391.8 455.4,403.9 462.6,399.6 463.2,398.7 463.2,391.8 455.4,383.4ZM347.4,356.6 346.4,357.3 344.3,364.2 354.6,368.9 358.2,368.8 369.0,367.4 372.6,367.9 373.1,367.6 375.2,364.2 369.0,359.0 363.6,359.0 356.4,357.6ZM413.6,393.5 414.1,393.5 414.0,393.9ZM415.1,395.2 415.8,395.1 416.0,395.2 415.8,396.1ZM416.5,397.0 417.6,396.7 417.9,397.0 417.6,398.3ZM418.0,398.7 419.4,398.3 419.8,398.7 419.4,400.4Z" fill="#00feef" fill-rule="evenodd"/>
<path d="M354.6,267.5 375.5,267.5 378.4,276.1 378.9,281.3 383.4,284.1 396.5,295.1 396.0,305.5 395.4,307.2 383.4,308.9 397.8,311.7 403.2,314.1 405.0,308.9 403.8,302.0 403.6,288.2 402.6,281.3 407.0,276.1 407.9,267.5 435.6,267.5 469.8,267.5 484.2,273.0 484.2,291.7 473.4,283.9 472.5,284.8 480.6,295.1 480.6,305.5 483.4,308.9 484.2,322.7 469.8,322.7 460.8,326.4 459.0,326.7 455.4,325.5 446.4,327.2 445.2,327.9 441.0,331.9 437.4,333.3 426.6,332.6 421.2,330.8 419.4,330.6 412.2,332.6 410.4,334.3 408.6,334.4 397.8,333.1 390.6,330.3 385.2,329.3 376.2,328.4 375.8,329.6 380.7,336.6 383.4,345.8 392.4,344.7 397.8,343.5 405.0,344.3 406.8,344.1 412.2,342.1 415.8,341.0 417.6,341.0 426.6,343.0 427.9,338.3 428.4,337.9 441.0,337.6 454.0,350.4 455.4,358.3 461.6,364.2 471.6,369.1 477.0,371.3 484.2,371.5 484.2,405.6 458.3,405.6 464.4,401.9 465.4,400.4 465.4,391.8 455.4,381.0 450.0,378.7 441.0,374.3 439.2,374.9 437.3,376.3 435.9,378.0 441.0,387.8 442.4,391.8 448.2,398.7 452.5,405.6 430.5,405.6 436.7,402.1 437.5,400.4 439.8,391.8 426.6,382.0 414.8,378.0 412.2,374.0 411.2,376.3 410.4,377.2 409.3,378.0 407.5,386.6 406.8,387.8 403.2,391.2 401.4,393.5 399.6,393.9 397.8,392.9 385.2,392.9 384.0,393.5 383.4,394.1 376.2,391.8 369.0,390.3 356.4,389.1 352.8,388.9 351.0,389.3 340.2,397.3 340.2,371.1 340.2,344.8 347.4,343.5 346.4,336.6 340.2,329.6 340.2,301.0 347.4,302.0 348.8,295.1 347.4,288.2 354.6,288.2 358.2,285.6 358.5,284.8 356.8,281.3ZM442.8,268.8 441.5,269.2 441.0,269.8 432.0,272.7 433.8,288.2 432.8,295.1 441.0,303.0 444.6,300.1 446.4,299.4 455.4,299.4 463.6,295.1 466.2,293.0 467.1,291.7 469.8,281.3 455.4,273.0ZM471.6,282.6 471.2,283.0 471.6,283.6 472.2,283.0ZM343.8,353.5 343.3,353.8 340.2,364.2 354.6,370.8 361.8,370.5 369.0,369.5 374.4,370.3 376.2,369.3 379.3,364.2 369.0,355.5 360.0,355.5 352.8,354.3Z" fill="#00fbcf" fill-rule="evenodd"/>
<path d="M357.5,267.5 374.2,267.5 376.5,274.4 377.1,281.3 383.4,285.2 395.2,295.1 394.7,305.5 394.2,306.0 383.4,307.5 378.0,303.7 377.1,303.8 369.0,308.9 383.4,314.5 385.2,312.0 387.0,311.5 397.8,313.5 406.8,317.6 409.8,308.9 409.3,305.5 409.2,291.7 407.4,281.3 408.9,279.6 409.7,277.9 410.8,267.5 433.8,267.5 428.4,269.2 430.2,284.8 428.7,295.1 441.0,307.0 447.0,302.0 448.2,301.5 455.4,301.5 460.5,298.6 467.7,295.1 469.0,293.4 469.8,290.5 473.4,295.1 473.4,298.6 481.8,308.9 482.5,321.0 469.8,321.1 468.0,320.3 466.2,319.9 457.2,324.0 455.4,323.7 444.6,325.7 443.8,326.2 441.0,328.9 435.6,331.2 426.6,330.6 417.6,327.5 415.8,327.7 412.2,328.7 408.6,332.1 406.8,332.5 397.8,331.4 389.6,327.9 387.0,327.1 383.4,326.5 372.6,325.6 372.4,326.2 379.8,336.6 383.4,348.8 396.0,347.3 397.8,346.9 410.4,348.3 421.2,345.1 426.6,346.3 428.4,339.6 430.2,338.5 441.0,338.3 453.3,350.4 455.4,362.2 457.2,363.9 471.1,371.1 480.6,374.9 482.4,375.2 484.2,375.2 484.2,405.6 464.0,405.6 466.9,403.9 467.6,402.1 467.6,391.8 455.4,378.6 441.0,371.4 437.4,372.5 435.6,373.3 431.7,378.0 435.3,384.9 433.8,385.6 426.6,380.2 420.1,378.0 412.2,366.1 408.6,374.5 403.6,378.0 402.8,381.4 402.0,383.2 398.4,386.6 396.0,388.3 394.2,389.0 383.4,389.0 381.6,389.7 369.0,387.2 356.4,386.2 349.2,386.0 347.4,386.8 340.2,391.8 340.2,367.9 343.8,367.9 354.6,372.7 361.8,372.5 369.0,371.6 378.0,372.9 378.3,372.8 383.4,364.2 369.0,352.1 356.4,352.1 340.2,350.4 351.0,348.3 352.0,346.9 350.5,336.6 340.2,325.0 340.2,305.0 351.0,306.5 352.4,305.5 354.6,295.1 361.8,289.9 362.4,288.2 359.0,281.3 357.3,269.2ZM361.8,302.0 361.8,302.0ZM443.1,267.5 466.2,267.5 466.2,277.9 455.4,271.6ZM479.4,277.9 480.6,277.2 484.2,278.5 484.2,284.8 479.4,281.3ZM435.2,386.6 435.6,385.4 436.2,386.6 435.6,386.9ZM440.8,397.0 441.0,396.4 446.8,405.6 435.8,405.6 438.9,403.9Z" fill="#00f9b0" fill-rule="evenodd"/>
<path d="M360.4,267.5 372.9,267.5 374.6,272.7 375.3,281.3 383.6,286.5 393.9,295.1 393.5,303.8 392.4,304.9 383.4,306.2 372.6,298.4 370.8,298.6 369.0,299.7 364.2,295.1 366.6,293.4 366.2,291.7 361.2,281.3 359.9,272.7ZM447.2,267.5 462.6,267.5 462.6,274.4 455.4,270.3ZM412.2,281.3 424.8,281.3 421.2,281.3ZM468.3,296.8 469.8,296.1 480.2,308.9 480.8,319.3 480.6,319.5 469.8,319.5 464.4,317.1 462.6,317.0 455.4,320.4 443.4,308.9 449.7,303.8 455.4,303.6 460.8,300.4ZM419.4,303.8 421.2,302.0 426.6,302.0 433.8,308.9 441.0,313.5 450.6,322.7 442.8,324.2 441.0,325.8 433.8,328.9 432.0,329.0 426.6,328.7 414.0,324.3 412.2,324.7 406.8,329.9 405.0,330.5 397.8,329.6 385.5,324.5 383.4,324.0 370.8,322.9 370.2,324.5 378.9,336.5 382.4,348.6 381.6,349.8 369.0,349.8 354.6,336.6 354.6,322.7 369.0,322.7 378.0,318.4 379.8,318.6 383.4,320.0 387.8,314.1 388.8,313.6 397.8,315.4 410.4,321.0 412.2,315.8 414.0,311.5 414.9,310.7 419.4,308.9ZM340.2,308.9 340.2,308.9ZM342.0,310.7 342.0,310.7ZM343.8,312.4 343.8,312.4ZM345.6,314.1 345.6,314.1ZM347.4,315.8 347.4,315.8ZM349.2,317.6 349.2,317.6ZM351.0,319.3 351.0,319.3ZM352.8,321.0 352.8,321.0ZM429.2,340.0 430.2,339.2 441.0,338.9 452.6,350.4 454.7,362.4 453.6,363.9 451.8,364.2 450.7,372.8 450.0,373.1 441.0,368.5 433.8,370.7 433.3,371.1 427.6,378.0 426.6,378.4 425.3,378.0 423.0,374.5 415.1,364.2 414.4,353.8 415.2,352.1 424.8,349.5 426.6,349.5ZM397.8,350.4 409.7,364.2 406.7,371.1 405.0,373.0 389.7,383.2 388.8,383.5 383.4,383.5 378.0,385.6 376.2,385.7 369.0,384.1 361.8,383.7 355.5,383.2 345.6,383.1 340.2,386.8 340.2,371.5 347.4,371.5 354.6,374.6 367.2,374.0 369.0,373.7 379.8,375.3 381.3,374.5 383.4,371.1 396.0,377.1 396.4,376.3 386.6,364.2 385.2,352.1ZM457.9,367.6 459.0,367.1 468.0,371.7 482.9,378.0 484.2,391.8 484.2,405.6 469.8,405.6 469.8,391.8 458.7,378.0ZM428.3,379.7 428.4,379.5 428.5,379.7ZM441.0,405.6 441.0,405.6Z" fill="#00f690" fill-rule="evenodd"/>
<path d="M363.2,267.5 371.6,267.5 372.6,270.5 373.5,281.3 381.9,286.5 384.4,288.2 392.6,295.1 392.2,302.0 390.6,303.8 383.4,304.8 370.0,295.1 363.5,281.3 362.5,274.4ZM451.3,267.5 459.0,267.5 459.0,271.0 456.0,269.2ZM468.8,298.6 469.8,298.1 478.6,308.9 479.1,317.6 478.8,317.9 469.8,317.9 460.8,313.8 459.0,314.1 455.4,315.8 448.2,308.9 451.8,306.0 455.4,305.7 464.4,300.7ZM424.8,312.4 426.6,311.7 441.0,322.7 432.0,326.6 430.2,326.9 426.6,326.7 415.1,322.7 418.0,315.8 419.4,314.5ZM390.6,315.8 397.8,317.2 410.1,322.7 404.7,327.9 403.2,328.6 397.8,327.9 385.5,322.7ZM355.9,324.5 356.4,324.0 369.0,324.0 378.0,336.6 381.0,346.9 379.8,348.6 369.0,348.6 355.9,336.6ZM430.0,340.0 441.0,339.6 451.8,350.2 454.1,362.4 453.6,363.0 444.6,364.2 444.4,365.9 442.8,366.5 441.0,365.6 432.0,368.3 430.6,369.3 426.6,374.2 418.9,364.2 418.4,357.3 419.4,356.0 426.6,354.1 432.0,357.0 432.2,355.5 427.3,350.4ZM433.8,357.2 432.6,357.3 433.8,357.9ZM388.8,355.5 397.8,354.3 406.3,364.2 404.0,369.3 403.2,370.3 397.8,374.0 389.8,364.2ZM462.6,371.1 462.6,371.1ZM462.7,372.8 464.4,372.0 469.3,374.5 477.7,378.0 478.3,384.9 477.0,386.3 469.8,386.3 463.2,378.0ZM340.2,376.3 340.2,375.2 351.0,375.2 352.8,375.7 354.6,376.6 367.2,376.1 369.0,375.9 383.4,378.0 374.4,381.4 372.6,381.8 369.0,381.0 354.6,380.2 343.8,380.2 342.0,380.5 340.2,381.7ZM484.2,405.6 484.2,405.6 484.2,405.6Z" fill="#02f570" fill-rule="evenodd"/>
<path d="M366.1,267.5 370.3,267.5 370.9,269.2 371.7,281.3 382.9,288.2 391.3,295.1 390.9,302.0 390.6,302.4 383.4,303.4 371.9,295.1 365.7,281.3 365.1,277.9ZM455.4,267.5 455.4,267.5ZM469.3,300.3 469.8,300.1 477.0,308.9 477.4,315.8 477.0,316.2 469.8,316.2 457.4,310.7 456.6,310.7 455.4,311.2 453.0,308.9 453.6,308.4 455.4,307.9 464.4,302.6ZM425.7,317.6 426.6,317.2 433.8,322.7 429.8,324.5 428.4,324.8 426.6,324.7 420.8,322.7 422.3,319.3 423.0,318.6ZM392.1,319.3 392.4,318.9 394.2,318.4 397.8,319.1 406.0,322.7 402.4,326.2 401.4,326.6 397.8,326.2 389.6,322.7ZM357.2,326.2 358.2,325.3 369.0,325.3 377.1,336.6 380.1,346.9 379.8,347.4 369.0,347.4 357.2,336.6ZM430.4,341.7 432.0,340.5 441.0,340.3 451.2,350.4 453.1,360.7 451.8,362.4 441.0,363.7 428.1,350.4ZM392.4,359.0 397.8,358.3 402.9,364.2 401.4,367.6 397.8,370.1 393.0,364.2ZM422.5,360.7 423.0,360.1 426.6,359.1 436.2,364.2 430.5,365.9 428.4,367.0 426.6,369.2 422.8,364.2ZM467.4,376.3 468.0,376.0 472.4,378.0 472.6,379.7 471.6,380.7 469.8,380.7 467.6,378.0ZM369.0,378.0 369.0,378.0Z" fill="#07f550" fill-rule="evenodd"/>
<path d="M368.8,269.2 369.0,267.5 369.9,281.3 383.4,289.6 389.9,295.1 389.7,300.3 388.8,301.2 383.4,302.0 373.8,295.1 367.9,281.3 367.7,279.6ZM466.2,303.8 469.8,302.0 475.4,308.9 475.7,314.1 475.2,314.6 469.8,314.6 457.2,308.9ZM395.0,321.0 396.0,320.6 398.1,321.0 401.9,322.7 400.1,324.5 399.6,324.7 397.8,324.5 393.7,322.7ZM358.5,327.9 360.0,326.5 369.0,326.5 376.2,336.6 378.7,345.2 378.0,346.2 369.0,346.2 358.5,336.6ZM431.3,341.7 432.0,341.2 441.0,341.0 450.5,350.4 452.4,360.7 451.8,361.5 441.0,362.8 429.0,350.4ZM396.0,362.4 397.8,362.2 399.5,364.2 397.8,366.1 396.2,364.2Z" fill="#0cf530" fill-rule="evenodd"/>
<path d="M370.7,283.0 370.9,283.0 370.8,283.3ZM371.4,284.8 372.6,284.1 383.4,290.7 388.6,295.1 388.5,298.6 387.0,300.1 383.4,300.6 375.7,295.1ZM466.7,305.5 469.8,304.0 473.8,308.9 474.0,312.4 473.4,313.0 469.8,313.0 460.8,308.9ZM397.8,322.7 397.8,322.7ZM359.8,327.9 360.0,327.8 369.0,327.8 375.3,336.6 377.3,343.5 376.2,345.0 369.0,345.0 359.8,336.6ZM438.3,341.7 441.0,341.7 449.8,350.4 451.4,359.0 450.5,360.7 441.0,361.9 429.9,350.4 432.0,342.4 433.8,341.8Z" fill="#11f510" fill-rule="evenodd"/>
<path d="M374.0,286.5 374.4,286.3 374.7,286.5 374.4,287.4ZM374.8,288.2 376.2,287.4 383.2,291.7 387.3,295.1 387.2,298.6 387.0,298.7 383.4,299.3 377.6,295.1ZM467.3,307.2 469.8,306.0 472.2,308.9 472.3,310.7 471.6,311.4 469.8,311.4 464.4,308.9ZM361.1,329.6 361.8,329.0 369.0,329.0 374.4,336.6 376.4,343.5 376.2,343.8 369.0,343.8 361.1,336.6ZM432.6,343.5 433.8,342.5 441.0,342.3 449.2,350.4 450.7,359.0 450.0,359.9 441.0,361.0 430.7,350.4Z" fill="#27f600" fill-rule="evenodd"/>
<path d="M377.4,289.9 378.0,289.6 384.0,293.4 386.0,295.1 385.9,296.8 385.2,297.6 383.4,297.9 379.6,295.1ZM468.0,308.9 469.8,307.9 470.6,308.9 469.8,309.7ZM362.5,331.4 363.6,330.3 369.0,330.3 373.5,336.5 375.0,341.7 374.4,342.6 369.0,342.6 362.5,336.6ZM433.5,343.5 433.8,343.2 441.0,343.0 448.5,350.4 449.7,357.3 449.8,359.0 441.0,360.1 431.6,350.4Z" fill="#4cf900" fill-rule="evenodd"/>
<path d="M380.8,293.4 381.6,292.9 383.4,294.0 384.7,295.1 383.4,296.5 381.5,295.1ZM363.8,333.1 365.4,331.5 369.0,331.5 372.6,336.6 373.6,340.0 372.6,341.4 369.0,341.4 363.8,336.6ZM433.9,345.2 435.6,343.8 441.0,343.7 447.8,350.4 449.0,357.3 448.2,358.3 441.0,359.2 432.5,350.4Z" fill="#72fb00" fill-rule="evenodd"/>
<path d="M383.4,295.1 383.4,295.1ZM365.1,333.1 365.4,332.8 369.0,332.8 371.7,336.6 372.6,339.6 372.6,340.2 369.0,340.2 365.1,336.6ZM434.8,345.2 435.6,344.5 441.0,344.4 447.1,350.4 448.2,357.4 441.0,358.3 433.4,350.4Z" fill="#97fe00" fill-rule="evenodd"/>
<path d="M366.4,334.8 367.2,334.0 369.0,334.0 370.8,336.6 371.3,338.3 370.8,339.0 369.0,339.0 366.4,336.6ZM436.5,345.2 441.1,345.2 446.4,350.5 447.3,355.5 446.4,356.7 441.0,357.4 434.2,350.4 435.6,345.3Z" fill="#b8ff00" fill-rule="evenodd"/>
<path d="M367.7,336.6 369.0,335.3 369.9,336.6 369.0,337.8ZM436.0,346.9 437.4,345.8 441.0,345.8 445.7,350.4 446.6,355.5 446.4,355.8 441.0,356.5 435.1,350.4Z" fill="#d4ff00" fill-rule="evenodd"/>
<path d="M369.0,336.6 369.0,336.6ZM436.9,346.9 437.4,346.5 441.0,346.4 445.0,350.4 445.6,353.8 444.6,355.1 441.0,355.5 436.0,350.4Z" fill="#f1ff00" fill-rule="evenodd"/>
<path d="M437.3,348.6 437.4,348.3 439.2,347.2 441.0,347.1 444.3,350.4 444.9,353.8 444.6,354.2 441.0,354.7 436.9,350.4Z" fill="#ffec00" fill-rule="evenodd"/>
<path d="M438.2,348.6 439.2,347.8 441.0,347.8 443.6,350.4 443.9,352.1 442.8,353.5 441.0,353.8 437.7,350.4Z" fill="#ffc600" fill-rule="evenodd"/>
<path d="M439.1,348.6 441.0,348.5 442.8,350.3 443.2,352.1 442.8,352.6 441.0,352.9 438.6,350.4Z" fill="#ff9f00" fill-rule="evenodd"/>
<path d="M439.5,350.4 441.0,349.2 442.2,350.4 441.0,351.9Z" fill="#ff7c00" fill-rule="evenodd"/>
<path d="M440.3,350.4 441.0,349.8 441.5,350.4 441.0,351.0Z" fill="#ff5b00" fill-rule="evenodd"/>
<path d="M382.1,267.5 383.4,271.4 385.2,270.7 387.4,269.2 389.2,267.5M453.6,279.3 452.8,279.6 451.3,281.3 455.4,284.8 457.3,283.0 457.8,281.3 455.4,279.9ZM455.4,334.7 453.6,335.2 452.2,336.6 455.4,340.0 464.4,345.4 464.8,345.2 461.2,336.6ZM426.6,390.9 425.0,391.8 426.6,393.2 427.8,391.8ZM399.9,405.6 397.8,404.4 396.0,405.0 395.4,405.6" fill="none" stroke="#444" stroke-opacity="0.38" stroke-width="0.6" stroke-dasharray="1.6,1.2"/>
<path d="M376.9,267.5 380.3,277.9 380.7,281.3 383.4,283.0 397.8,295.1 397.2,307.2 396.0,308.5 393.0,308.9 397.8,309.9 399.6,310.7 400.2,308.9 397.8,295.1 397.8,281.3 403.8,274.4 404.5,272.7 405.0,267.5M484.2,267.5ZM444.6,270.8 444.1,271.0 441.0,274.4 435.6,276.1 437.4,291.7 436.9,295.1 441.0,299.1 442.8,297.6 444.6,297.2 455.4,297.2 459.5,295.1 464.4,291.0 465.1,289.9 467.4,281.3 455.4,274.4ZM340.2,297.1 342.0,297.3 342.7,296.8 343.1,295.1 340.6,283.0 342.0,281.3 354.6,281.3 345.0,267.5M484.2,326.7 469.8,326.7 462.6,329.6 455.4,327.3 448.2,328.7 446.4,329.8 441.0,335.0 439.2,335.4 426.6,334.6 423.0,333.6 412.2,336.6 397.8,334.8 394.2,333.4 381.6,331.4 378.0,331.1 378.0,331.5 381.6,336.6 383.4,342.7 390.6,341.7 397.8,340.0 401.4,340.4 403.2,340.0 412.2,336.6 426.6,339.8 427.0,338.3 428.4,337.2 441.0,336.9 454.7,350.4 455.4,354.3 465.7,364.2 469.8,366.3 473.1,367.6 475.2,367.9 484.2,367.9M340.2,339.3 342.0,339.0 342.5,338.3 342.3,336.6 340.2,334.2M347.4,356.6 346.4,357.3 344.3,364.2 354.6,368.9 358.2,368.8 369.0,367.4 372.6,367.9 373.1,367.6 375.2,364.2 369.0,359.0 363.6,359.0 356.4,357.6ZM441.0,377.3 440.0,378.0 441.0,380.0 445.3,391.8 455.4,403.9 462.6,399.6 463.2,398.7 463.2,391.8 455.4,383.4ZM413.6,393.5 414.1,393.5 414.0,393.9ZM415.1,395.2 415.8,395.1 416.0,395.2 415.8,396.1ZM416.5,397.0 417.6,396.7 417.9,397.0 417.6,398.3ZM418.0,398.7 419.4,398.3 419.8,398.7 419.4,400.4ZM423.7,405.6 419.4,400.4 421.2,400.0 426.6,404.9 434.6,400.4 435.6,398.7 437.4,391.8 426.6,383.8 414.0,379.5 413.6,379.7 412.2,391.8 406.8,399.6 405.0,399.3 397.8,395.2 387.0,395.2 383.4,398.7 372.6,395.2 369.0,395.2 354.6,391.8 340.2,402.8" fill="none" stroke="#444" stroke-opacity="0.38" stroke-width="0.6" stroke-dasharray="1.6,1.2"/>
<path d="M371.6,267.5 372.6,270.5 373.5,281.3 381.9,286.5 384.4,288.2 392.6,295.1 392.2,302.0 390.6,303.8 383.4,304.8 370.0,295.1 363.5,281.3 362.5,274.4 363.2,267.5M459.0,267.5 459.0,269.2 457.2,269.9 455.4,268.9 451.3,267.5M468.8,298.6 469.8,298.1 478.6,308.9 479.1,317.6 478.8,317.9 469.8,317.9 460.8,313.8 459.0,314.1 455.4,315.8 448.2,308.9 451.8,306.0 455.4,305.7 464.4,300.7ZM424.8,312.4 426.6,311.7 441.0,322.7 432.0,326.6 430.2,326.9 426.6,326.7 415.1,322.7 418.0,315.8 419.4,314.5ZM389.3,317.6 390.6,315.8 397.8,317.2 410.1,322.7 404.7,327.9 403.2,328.6 397.8,327.9 385.5,322.7ZM355.9,324.5 356.4,324.0 369.0,324.0 378.0,336.6 381.0,346.9 379.8,348.6 369.0,348.6 355.9,336.6ZM430.0,340.0 441.0,339.6 451.8,350.2 454.1,362.4 453.6,363.0 444.6,364.2 444.4,365.9 442.8,366.5 441.0,365.6 432.0,368.3 430.6,369.3 426.6,374.2 418.9,364.2 418.4,357.3 419.4,356.0 426.6,354.1 432.0,357.0 432.2,355.5 427.3,350.4ZM388.8,355.5 397.8,354.3 406.3,364.2 404.0,369.3 403.2,370.3 397.8,374.0 389.8,364.2ZM433.8,357.2 432.6,357.3 433.8,357.9ZM462.7,372.8 464.4,372.0 469.3,374.5 477.7,378.0 478.3,384.9 477.0,386.3 469.8,386.3 463.2,378.0ZM340.2,375.2 351.0,375.2 352.8,375.7 354.6,376.6 367.2,376.1 369.0,375.9 383.4,378.0 374.4,381.4 372.6,381.8 369.0,381.0 354.6,380.2 343.8,380.2 342.0,380.5 340.2,381.7" fill="none" stroke="#444" stroke-opacity="0.38" stroke-width="0.6" stroke-dasharray="1.6,1.2"/>
<path d="M374.0,286.5 374.4,286.3 374.7,286.5 374.4,287.4ZM374.8,288.2 376.2,287.4 383.2,291.7 387.3,295.1 387.2,298.6 387.0,298.7 383.4,299.3 377.6,295.1ZM467.3,307.2 469.8,306.0 472.2,308.9 472.3,310.7 471.6,311.4 469.8,311.4 464.4,308.9ZM361.1,329.6 361.8,329.0 369.0,329.0 374.4,336.6 376.4,343.5 376.2,343.8 369.0,343.8 361.1,336.6ZM432.6,343.5 433.8,342.5 441.0,342.3 449.2,350.4 450.7,359.0 450.0,359.9 441.0,361.0 430.7,350.4Z" fill="none" stroke="#444" stroke-opacity="0.38" stroke-width="0.6" stroke-dasharray="1.6,1.2"/>
<path d="M366.4,334.8 367.2,334.0 369.0,334.0 370.8,336.6 371.3,338.3 370.8,339.0 369.0,339.0 366.4,336.6ZM436.5,345.2 441.1,345.2 446.4,350.5 447.3,355.5 446.4,356.7 441.0,357.4 434.2,350.4 435.6,345.3Z" fill="none" stroke="#444" stroke-opacity="0.38" stroke-width="0.6" stroke-dasharray="1.6,1.2"/>
<path d="M438.2,348.6 439.2,347.8 441.0,347.8 443.6,350.4 443.9,352.1 442.8,353.5 441.0,353.8 437.7,350.4Z" fill="none" stroke="#444" stroke-opacity="0.38" stroke-width="0.6" stroke-dasharray="1.6,1.2"/>
<rect x="340.2" y="267.5" width="144.0" height="138.10000000000002" fill="none" stroke="#000" stroke-width="1.3"/>
<line x1="340.20" y1="405.6" x2="340.20" y2="408.6" stroke="#000" stroke-width="1.2"/>
<text x="340.20" y="416.70" font-size="8.6" text-anchor="middle" font-family="'Liberation Sans', sans-serif" font-weight="bold">-15</text>
<line x1="337.2" y1="405.60" x2="340.2" y2="405.60" stroke="#000" stroke-width="1.2"/>
<text x="335.7" y="408.70" font-size="8.6" text-anchor="end" font-family="'Liberation Sans', sans-serif" font-weight="bold">-15</text>
<line x1="352.20" y1="405.6" x2="352.20" y2="407.40000000000003" stroke="#000" stroke-width="1"/>
<line x1="338.4" y1="394.09" x2="340.2" y2="394.09" stroke="#000" stroke-width="1"/>
<line x1="364.20" y1="405.6" x2="364.20" y2="408.6" stroke="#000" stroke-width="1.2"/>
<text x="364.20" y="416.70" font-size="8.6" text-anchor="middle" font-family="'Liberation Sans', sans-serif" font-weight="bold">-10</text>
<line x1="337.2" y1="382.58" x2="340.2" y2="382.58" stroke="#000" stroke-width="1.2"/>
<text x="335.7" y="385.68" font-size="8.6" text-anchor="end" font-family="'Liberation Sans', sans-serif" font-weight="bold">-10</text>
<line x1="376.20" y1="405.6" x2="376.20" y2="407.40000000000003" stroke="#000" stroke-width="1"/>
<line x1="338.4" y1="371.08" x2="340.2" y2="371.08" stroke="#000" stroke-width="1"/>
<line x1="388.20" y1="405.6" x2="388.20" y2="408.6" stroke="#000" stroke-width="1.2"/>
<text x="388.20" y="416.70" font-size="8.6" text-anchor="middle" font-family="'Liberation Sans', sans-serif" font-weight="bold">-5</text>
<line x1="337.2" y1="359.57" x2="340.2" y2="359.57" stroke="#000" stroke-width="1.2"/>
<text x="335.7" y="362.67" font-size="8.6" text-anchor="end" font-family="'Liberation Sans', sans-serif" font-weight="bold">-5</text>
<line x1="400.20" y1="405.6" x2="400.20" y2="407.40000000000003" stroke="#000" stroke-width="1"/>
<line x1="338.4" y1="348.06" x2="340.2" y2="348.06" stroke="#000" stroke-width="1"/>
<line x1="412.20" y1="405.6" x2="412.20" y2="408.6" stroke="#000" stroke-width="1.2"/>
<text x="412.20" y="416.70" font-size="8.6" text-anchor="middle" font-family="'Liberation Sans', sans-serif" font-weight="bold">0</text>
<line x1="337.2" y1="336.55" x2="340.2" y2="336.55" stroke="#000" stroke-width="1.2"/>
<text x="335.7" y="339.65" font-size="8.6" text-anchor="end" font-family="'Liberation Sans', sans-serif" font-weight="bold">0</text>
<line x1="424.20" y1="405.6" x2="424.20" y2="407.40000000000003" stroke="#000" stroke-width="1"/>
<line x1="338.4" y1="325.04" x2="340.2" y2="325.04" stroke="#000" stroke-width="1"/>
<line x1="436.20" y1="405.6" x2="436.20" y2="408.6" stroke="#000" stroke-width="1.2"/>
<text x="436.20" y="416.70" font-size="8.6" text-anchor="middle" font-family="'Liberation Sans', sans-serif" font-weight="bold">5</text>
<line x1="337.2" y1="313.53" x2="340.2" y2="313.53" stroke="#000" stroke-width="1.2"/>
<text x="335.7" y="316.63" font-size="8.6" text-anchor="end" font-family="'Liberation Sans', sans-serif" font-weight="bold">5</text>
<line x1="448.20" y1="405.6" x2="448.20" y2="407.40000000000003" stroke="#000" stroke-width="1"/>
<line x1="338.4" y1="302.03" x2="340.2" y2="302.03" stroke="#000" stroke-width="1"/>
<line x1="460.20" y1="405.6" x2="460.20" y2="408.6" stroke="#000" stroke-width="1.2"/>
<text x="460.20" y="416.70" font-size="8.6" text-anchor="middle" font-family="'Liberation Sans', sans-serif" font-weight="bold">10</text>
<line x1="337.2" y1="290.52" x2="340.2" y2="290.52" stroke="#000" stroke-width="1.2"/>
<text x="335.7" y="293.62" font-size="8.6" text-anchor="end" font-family="'Liberation Sans', sans-serif" font-weight="bold">10</text>
<line x1="472.20" y1="405.6" x2="472.20" y2="407.40000000000003" stroke="#000" stroke-width="1"/>
<line x1="338.4" y1="279.01" x2="340.2" y2="279.01" stroke="#000" stroke-width="1"/>
<line x1="484.20" y1="405.6" x2="484.20" y2="408.6" stroke="#000" stroke-width="1.2"/>
<text x="484.20" y="416.70" font-size="8.6" text-anchor="middle" font-family="'Liberation Sans', sans-serif" font-weight="bold">15</text>
<line x1="337.2" y1="267.50" x2="340.2" y2="267.50" stroke="#000" stroke-width="1.2"/>
<text x="335.7" y="270.60" font-size="8.6" text-anchor="end" font-family="'Liberation Sans', sans-serif" font-weight="bold">15</text>
<defs><linearGradient id="cb3" x1="0" y1="0" x2="0" y2="1"><stop offset="0.0000" stop-color="#ff0a00"/><stop offset="0.0167" stop-color="#ff1a00"/><stop offset="0.0333" stop-color="#ff2b00"/><stop offset="0.0500" stop-color="#ff3b00"/><stop offset="0.0667" stop-color="#ff4b00"/><stop offset="0.0833" stop-color="#ff5b00"/><stop offset="0.1000" stop-color="#ff6c00"/><stop offset="0.1167" stop-color="#ff7c00"/><stop offset="0.1333" stop-color="#ff8c00"/><stop offset="0.1500" stop-color="#ff9f00"/><stop offset="0.1667" stop-color="#ffb200"/><stop offset="0.1833" stop-color="#ffc600"/><stop offset="0.2000" stop-color="#ffd900"/><stop offset="0.2167" stop-color="#ffec00"/><stop offset="0.2333" stop-color="#ffff00"/><stop offset="0.2500" stop-color="#f1ff00"/><stop offset="0.2667" stop-color="#e3ff00"/><stop offset="0.2833" stop-color="#d5ff00"/><stop offset="0.3000" stop-color="#c6ff00"/><stop offset="0.3167" stop-color="#b8ff00"/><stop offset="0.3333" stop-color="#aaff00"/><stop offset="0.3500" stop-color="#97fe00"/><stop offset="0.3667" stop-color="#85fc00"/><stop offset="0.3833" stop-color="#72fb00"/><stop offset="0.4000" stop-color="#5ffa00"/><stop offset="0.4167" stop-color="#4cf900"/><stop offset="0.4333" stop-color="#39f800"/><stop offset="0.4500" stop-color="#27f600"/><stop offset="0.4667" stop-color="#14f500"/><stop offset="0.4833" stop-color="#11f510"/><stop offset="0.5000" stop-color="#0ff520"/><stop offset="0.5167" stop-color="#0cf530"/><stop offset="0.5333" stop-color="#0af540"/><stop offset="0.5500" stop-color="#07f550"/><stop offset="0.5667" stop-color="#05f560"/><stop offset="0.5833" stop-color="#03f570"/><stop offset="0.6000" stop-color="#00f580"/><stop offset="0.6167" stop-color="#00f690"/><stop offset="0.6333" stop-color="#00f8a0"/><stop offset="0.6500" stop-color="#00f9b0"/><stop offset="0.6667" stop-color="#00fabf"/><stop offset="0.6833" stop-color="#00fbcf"/><stop offset="0.7000" stop-color="#00fcdf"/><stop offset="0.7167" stop-color="#00feef"/><stop offset="0.7333" stop-color="#00ffff"/><stop offset="0.7500" stop-color="#00edff"/><stop offset="0.7667" stop-color="#00dbff"/><stop offset="0.7833" stop-color="#00c9ff"/><stop offset="0.8000" stop-color="#00b6ff"/><stop offset="0.8167" stop-color="#00a4ff"/><stop offset="0.8333" stop-color="#0092ff"/><stop offset="0.8500" stop-color="#0080ff"/><stop offset="0.8667" stop-color="#006eff"/><stop offset="0.8833" stop-color="#0060fe"/><stop offset="0.9000" stop-color="#0052fc"/><stop offset="0.9167" stop-color="#0045fb"/><stop offset="0.9333" stop-color="#0037fa"/><stop offset="0.9500" stop-color="#0029f9"/><stop offset="0.9667" stop-color="#001bf8"/><stop offset="0.9833" stop-color="#000ef6"/><stop offset="1.0000" stop-color="#0000f5"/></linearGradient></defs>
<rect x="497.0" y="273.2" width="23.60" height="130.40" fill="url(#cb3)" stroke="#000" stroke-width="1.2"/>
<line x1="520.6" y1="403.60" x2="523.1" y2="403.60" stroke="#000" stroke-width="1.2"/>
<text x="526.6" y="407.00" font-size="8.6" font-family="'Liberation Sans', sans-serif" font-weight="bold">0.01</text>
<line x1="520.6" y1="386.21" x2="523.1" y2="386.21" stroke="#000" stroke-width="1.2"/>
<text x="526.6" y="389.61" font-size="8.6" font-family="'Liberation Sans', sans-serif" font-weight="bold">0.09</text>
<line x1="520.6" y1="368.83" x2="523.1" y2="368.83" stroke="#000" stroke-width="1.2"/>
<text x="526.6" y="372.23" font-size="8.6" font-family="'Liberation Sans', sans-serif" font-weight="bold">0.17</text>
<line x1="520.6" y1="351.44" x2="523.1" y2="351.44" stroke="#000" stroke-width="1.2"/>
<text x="526.6" y="354.84" font-size="8.6" font-family="'Liberation Sans', sans-serif" font-weight="bold">0.25</text>
<line x1="520.6" y1="334.05" x2="523.1" y2="334.05" stroke="#000" stroke-width="1.2"/>
<text x="526.6" y="337.45" font-size="8.6" font-family="'Liberation Sans', sans-serif" font-weight="bold">0.33</text>
<line x1="520.6" y1="316.67" x2="523.1" y2="316.67" stroke="#000" stroke-width="1.2"/>
<text x="526.6" y="320.07" font-size="8.6" font-family="'Liberation Sans', sans-serif" font-weight="bold">0.41</text>
<line x1="520.6" y1="299.28" x2="523.1" y2="299.28" stroke="#000" stroke-width="1.2"/>
<text x="526.6" y="302.68" font-size="8.6" font-family="'Liberation Sans', sans-serif" font-weight="bold">0.49</text>
<line x1="520.6" y1="281.89" x2="523.1" y2="281.89" stroke="#000" stroke-width="1.2"/>
<text x="526.6" y="285.29" font-size="8.6" font-family="'Liberation Sans', sans-serif" font-weight="bold">0.57</text>
<text x="492.1" y="263.3" font-size="16.5" font-family="'Liberation Sans', sans-serif" font-weight="bold">I</text><text x="496.3" y="266.9" font-size="10.3" font-family="'Liberation Sans', sans-serif" font-weight="bold">(D/G)</text>
<text x="301.8" y="254.9" font-size="16" font-family="'Liberation Sans', sans-serif" font-weight="bold">(d)</text>
<text x="412.5" y="435.3" font-size="11.6" text-anchor="middle" font-family="'Liberation Sans', sans-serif" font-weight="bold">x (µm)</text>
<text transform="translate(318.3,336.5) rotate(-90)" font-size="11.5" text-anchor="middle" font-family="'Liberation Sans', sans-serif" font-weight="bold">y (µm)</text>
</svg>
</body></html>
